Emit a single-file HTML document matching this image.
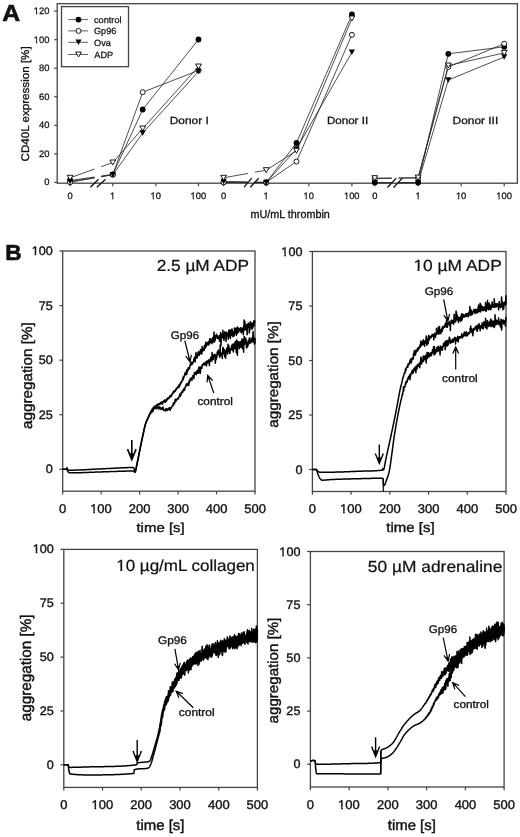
<!DOCTYPE html>
<html><head><meta charset="utf-8"><style>
html,body{margin:0;padding:0;background:#fff;}
body{width:520px;height:837px;overflow:hidden;}
svg{display:block;font-family:"Liberation Sans", sans-serif;filter:grayscale(100%);text-rendering:geometricPrecision;}
</style></head><body>
<svg width="520" height="837" viewBox="0 0 520 837">
<rect width="520" height="837" fill="#fff"/>
<rect x="57.2" y="3.7" width="460.2" height="179.5" fill="none" stroke="#444" stroke-width="1.3"/>
<line x1="54.2" y1="182.4" x2="57.2" y2="182.4" stroke="#444" stroke-width="1.2"/>
<text transform="translate(44.26,185.34) scale(1.0000,1)" font-size="9.400" fill="#111" stroke="#111" stroke-width="0.26">0</text>
<line x1="54.2" y1="153.86" x2="57.2" y2="153.86" stroke="#444" stroke-width="1.2"/>
<text transform="translate(39.04,156.8) scale(1.0000,1)" font-size="9.400" fill="#111" stroke="#111" stroke-width="0.26">20</text>
<line x1="54.2" y1="125.32" x2="57.2" y2="125.32" stroke="#444" stroke-width="1.2"/>
<text transform="translate(39.04,128.26) scale(1.0000,1)" font-size="9.400" fill="#111" stroke="#111" stroke-width="0.26">40</text>
<line x1="54.2" y1="96.78" x2="57.2" y2="96.78" stroke="#444" stroke-width="1.2"/>
<text transform="translate(39.04,99.72) scale(1.0000,1)" font-size="9.400" fill="#111" stroke="#111" stroke-width="0.26">60</text>
<line x1="54.2" y1="68.24" x2="57.2" y2="68.24" stroke="#444" stroke-width="1.2"/>
<text transform="translate(39.04,71.18) scale(1.0000,1)" font-size="9.400" fill="#111" stroke="#111" stroke-width="0.26">80</text>
<line x1="54.2" y1="39.7" x2="57.2" y2="39.7" stroke="#444" stroke-width="1.2"/>
<text transform="translate(33.83,42.64) scale(1.0000,1)" font-size="9.400" fill="#111" stroke="#111" stroke-width="0.26">100</text>
<g transform="translate(33.83,42.64) scale(1.0000,1)" fill="#fff"><rect x="0.06" y="-1.83" width="2.08" height="2.97"/><rect x="3.43" y="-1.83" width="2.00" height="2.97"/></g>
<line x1="54.2" y1="11.16" x2="57.2" y2="11.16" stroke="#444" stroke-width="1.2"/>
<text transform="translate(33.83,14.1) scale(1.0000,1)" font-size="9.400" fill="#111" stroke="#111" stroke-width="0.26">120</text>
<g transform="translate(33.83,14.1) scale(1.0000,1)" fill="#fff"><rect x="0.06" y="-1.83" width="2.08" height="2.97"/><rect x="3.43" y="-1.83" width="2.00" height="2.97"/></g>
<line x1="70.1" y1="183.2" x2="70.1" y2="186.2" stroke="#444" stroke-width="1.2"/>
<text transform="translate(67.52,199.11) scale(1.0000,1)" font-size="9.300" fill="#111" stroke="#111" stroke-width="0.26">0</text>
<line x1="112.8" y1="183.2" x2="112.8" y2="186.2" stroke="#444" stroke-width="1.2"/>
<text transform="translate(110.1,199.11) scale(1.0000,1)" font-size="9.300" fill="#111" stroke="#111" stroke-width="0.26">1</text>
<g transform="translate(110.1,199.11) scale(1.0000,1)" fill="#fff"><rect x="0.05" y="-1.82" width="2.06" height="2.96"/><rect x="3.39" y="-1.82" width="1.98" height="2.96"/></g>
<line x1="155.9" y1="183.2" x2="155.9" y2="186.2" stroke="#444" stroke-width="1.2"/>
<text transform="translate(150.58,199.11) scale(1.0000,1)" font-size="9.300" fill="#111" stroke="#111" stroke-width="0.26">10</text>
<g transform="translate(150.58,199.11) scale(1.0000,1)" fill="#fff"><rect x="0.05" y="-1.82" width="2.06" height="2.96"/><rect x="3.39" y="-1.82" width="1.98" height="2.96"/></g>
<line x1="198.5" y1="183.2" x2="198.5" y2="186.2" stroke="#444" stroke-width="1.2"/>
<text transform="translate(190.59,199.11) scale(1.0000,1)" font-size="9.300" fill="#111" stroke="#111" stroke-width="0.26">100</text>
<g transform="translate(190.59,199.11) scale(1.0000,1)" fill="#fff"><rect x="0.05" y="-1.82" width="2.06" height="2.96"/><rect x="3.39" y="-1.82" width="1.98" height="2.96"/></g>
<line x1="90.4" y1="187.3" x2="98.5" y2="179.2" stroke="#111" stroke-width="1.3"/>
<line x1="96.8" y1="187.3" x2="105.5" y2="179.2" stroke="#111" stroke-width="1.3"/>
<line x1="223.6" y1="183.2" x2="223.6" y2="186.2" stroke="#444" stroke-width="1.2"/>
<text transform="translate(221.02,199.11) scale(1.0000,1)" font-size="9.300" fill="#111" stroke="#111" stroke-width="0.26">0</text>
<line x1="266.2" y1="183.2" x2="266.2" y2="186.2" stroke="#444" stroke-width="1.2"/>
<text transform="translate(263.5,199.11) scale(1.0000,1)" font-size="9.300" fill="#111" stroke="#111" stroke-width="0.26">1</text>
<g transform="translate(263.5,199.11) scale(1.0000,1)" fill="#fff"><rect x="0.05" y="-1.82" width="2.06" height="2.96"/><rect x="3.39" y="-1.82" width="1.98" height="2.96"/></g>
<line x1="308.9" y1="183.2" x2="308.9" y2="186.2" stroke="#444" stroke-width="1.2"/>
<text transform="translate(303.58,199.11) scale(1.0000,1)" font-size="9.300" fill="#111" stroke="#111" stroke-width="0.26">10</text>
<g transform="translate(303.58,199.11) scale(1.0000,1)" fill="#fff"><rect x="0.05" y="-1.82" width="2.06" height="2.96"/><rect x="3.39" y="-1.82" width="1.98" height="2.96"/></g>
<line x1="351.9" y1="183.2" x2="351.9" y2="186.2" stroke="#444" stroke-width="1.2"/>
<text transform="translate(344,199.11) scale(1.0000,1)" font-size="9.300" fill="#111" stroke="#111" stroke-width="0.26">100</text>
<g transform="translate(344,199.11) scale(1.0000,1)" fill="#fff"><rect x="0.05" y="-1.82" width="2.06" height="2.96"/><rect x="3.39" y="-1.82" width="1.98" height="2.96"/></g>
<line x1="244.1" y1="187.2" x2="251.7" y2="178.2" stroke="#111" stroke-width="1.3"/>
<line x1="250.3" y1="187.2" x2="258.6" y2="178.2" stroke="#111" stroke-width="1.3"/>
<line x1="374.75" y1="183.2" x2="374.75" y2="186.2" stroke="#444" stroke-width="1.2"/>
<text transform="translate(372.17,199.11) scale(1.0000,1)" font-size="9.300" fill="#111" stroke="#111" stroke-width="0.26">0</text>
<line x1="418.1" y1="183.2" x2="418.1" y2="186.2" stroke="#444" stroke-width="1.2"/>
<text transform="translate(415.4,199.11) scale(1.0000,1)" font-size="9.300" fill="#111" stroke="#111" stroke-width="0.26">1</text>
<g transform="translate(415.4,199.11) scale(1.0000,1)" fill="#fff"><rect x="0.05" y="-1.82" width="2.06" height="2.96"/><rect x="3.39" y="-1.82" width="1.98" height="2.96"/></g>
<line x1="461.2" y1="183.2" x2="461.2" y2="186.2" stroke="#444" stroke-width="1.2"/>
<text transform="translate(455.88,199.11) scale(1.0000,1)" font-size="9.300" fill="#111" stroke="#111" stroke-width="0.26">10</text>
<g transform="translate(455.88,199.11) scale(1.0000,1)" fill="#fff"><rect x="0.05" y="-1.82" width="2.06" height="2.96"/><rect x="3.39" y="-1.82" width="1.98" height="2.96"/></g>
<line x1="504.2" y1="183.2" x2="504.2" y2="186.2" stroke="#444" stroke-width="1.2"/>
<text transform="translate(496.3,199.11) scale(1.0000,1)" font-size="9.300" fill="#111" stroke="#111" stroke-width="0.26">100</text>
<g transform="translate(496.3,199.11) scale(1.0000,1)" fill="#fff"><rect x="0.05" y="-1.82" width="2.06" height="2.96"/><rect x="3.39" y="-1.82" width="1.98" height="2.96"/></g>
<line x1="387.5" y1="187.5" x2="396.2" y2="178.1" stroke="#111" stroke-width="1.3"/>
<line x1="393.5" y1="187.5" x2="402.5" y2="178.1" stroke="#111" stroke-width="1.3"/>
<line x1="70.1" y1="180.5" x2="94.6" y2="177" stroke="#222" stroke-width="0.8"/>
<line x1="101.2" y1="176.06" x2="112.8" y2="174.4" stroke="#222" stroke-width="0.8"/>
<polyline points="112.8,174.4 142.7,109.5 198.5,39.5" fill="none" stroke="#222" stroke-width="0.8" stroke-linejoin="round"/>
<line x1="70.1" y1="182.3" x2="94.6" y2="177.88" stroke="#222" stroke-width="0.8"/>
<line x1="101.2" y1="176.69" x2="112.8" y2="174.6" stroke="#222" stroke-width="0.8"/>
<polyline points="112.8,174.6 142.7,92.2 198.5,70.5" fill="none" stroke="#222" stroke-width="0.8" stroke-linejoin="round"/>
<line x1="70.1" y1="181.5" x2="94.6" y2="177.66" stroke="#222" stroke-width="0.8"/>
<line x1="101.2" y1="176.62" x2="112.8" y2="174.8" stroke="#222" stroke-width="0.8"/>
<polyline points="112.8,174.8 142.7,133 198.5,71.5" fill="none" stroke="#222" stroke-width="0.8" stroke-linejoin="round"/>
<line x1="70.1" y1="177.8" x2="94.6" y2="169.02" stroke="#222" stroke-width="0.8"/>
<line x1="101.2" y1="166.66" x2="112.8" y2="162.5" stroke="#222" stroke-width="0.8"/>
<polyline points="112.8,162.5 142.7,128.5 198.5,66.5" fill="none" stroke="#222" stroke-width="0.8" stroke-linejoin="round"/>
<circle cx="70.1" cy="180.5" r="2.9" fill="#000"/>
<circle cx="112.8" cy="174.4" r="2.9" fill="#000"/>
<circle cx="142.7" cy="109.5" r="2.9" fill="#000"/>
<circle cx="198.5" cy="39.5" r="2.9" fill="#000"/>
<circle cx="70.1" cy="182.3" r="2.5" fill="#fff" stroke="#000" stroke-width="0.9"/>
<circle cx="112.8" cy="174.6" r="2.5" fill="#fff" stroke="#000" stroke-width="0.9"/>
<circle cx="142.7" cy="92.2" r="2.5" fill="#fff" stroke="#000" stroke-width="0.9"/>
<circle cx="198.5" cy="70.5" r="2.5" fill="#fff" stroke="#000" stroke-width="0.9"/>
<path d="M67 178.8L73.2 178.8L70.1 184.2Z" fill="#000"/>
<path d="M109.7 172.1L115.9 172.1L112.8 177.5Z" fill="#000"/>
<path d="M139.6 130.3L145.8 130.3L142.7 135.7Z" fill="#000"/>
<path d="M195.4 68.8L201.6 68.8L198.5 74.2Z" fill="#000"/>
<path d="M67.2 175.3L73 175.3L70.1 180.3Z" fill="#fff" stroke="#000" stroke-width="0.9" stroke-linejoin="miter"/>
<path d="M109.9 160L115.7 160L112.8 165Z" fill="#fff" stroke="#000" stroke-width="0.9" stroke-linejoin="miter"/>
<path d="M139.8 126L145.6 126L142.7 131Z" fill="#fff" stroke="#000" stroke-width="0.9" stroke-linejoin="miter"/>
<path d="M195.6 64L201.4 64L198.5 69Z" fill="#fff" stroke="#000" stroke-width="0.9" stroke-linejoin="miter"/>
<line x1="223.6" y1="182" x2="248" y2="182.29" stroke="#222" stroke-width="0.8"/>
<line x1="254.8" y1="182.37" x2="266.2" y2="182.5" stroke="#222" stroke-width="0.8"/>
<polyline points="266.2,182.5 296.5,143 351.9,14.5" fill="none" stroke="#222" stroke-width="0.8" stroke-linejoin="round"/>
<line x1="223.6" y1="182.3" x2="248" y2="182.3" stroke="#222" stroke-width="0.8"/>
<line x1="254.8" y1="182.3" x2="266.2" y2="182.3" stroke="#222" stroke-width="0.8"/>
<polyline points="266.2,182.3 296.5,161.5 351.9,34.8" fill="none" stroke="#222" stroke-width="0.8" stroke-linejoin="round"/>
<line x1="223.6" y1="181.5" x2="248" y2="182.07" stroke="#222" stroke-width="0.8"/>
<line x1="254.8" y1="182.23" x2="266.2" y2="182.5" stroke="#222" stroke-width="0.8"/>
<polyline points="266.2,182.5 296.5,149 351.9,52.3" fill="none" stroke="#222" stroke-width="0.8" stroke-linejoin="round"/>
<line x1="223.6" y1="177.8" x2="248" y2="173.45" stroke="#222" stroke-width="0.8"/>
<line x1="254.8" y1="172.23" x2="266.2" y2="170.2" stroke="#222" stroke-width="0.8"/>
<polyline points="266.2,170.2 296.5,150.8 351.9,18.5" fill="none" stroke="#222" stroke-width="0.8" stroke-linejoin="round"/>
<circle cx="223.6" cy="182" r="2.9" fill="#000"/>
<circle cx="266.2" cy="182.5" r="2.9" fill="#000"/>
<circle cx="296.5" cy="143" r="2.9" fill="#000"/>
<circle cx="351.9" cy="14.5" r="2.9" fill="#000"/>
<circle cx="223.6" cy="182.3" r="2.5" fill="#fff" stroke="#000" stroke-width="0.9"/>
<circle cx="266.2" cy="182.3" r="2.5" fill="#fff" stroke="#000" stroke-width="0.9"/>
<circle cx="296.5" cy="161.5" r="2.5" fill="#fff" stroke="#000" stroke-width="0.9"/>
<circle cx="351.9" cy="34.8" r="2.5" fill="#fff" stroke="#000" stroke-width="0.9"/>
<path d="M220.5 178.8L226.7 178.8L223.6 184.2Z" fill="#000"/>
<path d="M263.1 179.8L269.3 179.8L266.2 185.2Z" fill="#000"/>
<path d="M293.4 146.3L299.6 146.3L296.5 151.7Z" fill="#000"/>
<path d="M348.8 49.6L355 49.6L351.9 55Z" fill="#000"/>
<path d="M220.7 175.3L226.5 175.3L223.6 180.3Z" fill="#fff" stroke="#000" stroke-width="0.9" stroke-linejoin="miter"/>
<path d="M263.3 167.7L269.1 167.7L266.2 172.7Z" fill="#fff" stroke="#000" stroke-width="0.9" stroke-linejoin="miter"/>
<path d="M293.6 148.3L299.4 148.3L296.5 153.3Z" fill="#fff" stroke="#000" stroke-width="0.9" stroke-linejoin="miter"/>
<path d="M349 16L354.8 16L351.9 21Z" fill="#fff" stroke="#000" stroke-width="0.9" stroke-linejoin="miter"/>
<line x1="374.75" y1="182.6" x2="391.8" y2="182.6" stroke="#222" stroke-width="0.8"/>
<line x1="398.6" y1="182.6" x2="418.1" y2="182.6" stroke="#222" stroke-width="0.8"/>
<polyline points="418.1,182.6 448.3,53.8 504.2,46.8" fill="none" stroke="#222" stroke-width="0.8" stroke-linejoin="round"/>
<line x1="374.75" y1="178.6" x2="391.8" y2="178.36" stroke="#222" stroke-width="0.8"/>
<line x1="398.6" y1="178.27" x2="418.1" y2="178" stroke="#222" stroke-width="0.8"/>
<polyline points="418.1,178 448.3,67 504.2,43.7" fill="none" stroke="#222" stroke-width="0.8" stroke-linejoin="round"/>
<line x1="374.75" y1="182.8" x2="391.8" y2="182.8" stroke="#222" stroke-width="0.8"/>
<line x1="398.6" y1="182.8" x2="418.1" y2="182.8" stroke="#222" stroke-width="0.8"/>
<polyline points="418.1,182.8 448.3,80 504.2,57" fill="none" stroke="#222" stroke-width="0.8" stroke-linejoin="round"/>
<line x1="374.75" y1="178.2" x2="391.8" y2="177.96" stroke="#222" stroke-width="0.8"/>
<line x1="398.6" y1="177.87" x2="418.1" y2="177.6" stroke="#222" stroke-width="0.8"/>
<polyline points="418.1,177.6 448.3,65.5 504.2,52.9" fill="none" stroke="#222" stroke-width="0.8" stroke-linejoin="round"/>
<circle cx="374.75" cy="182.6" r="2.9" fill="#000"/>
<circle cx="418.1" cy="182.6" r="2.9" fill="#000"/>
<circle cx="448.3" cy="53.8" r="2.9" fill="#000"/>
<circle cx="504.2" cy="46.8" r="2.9" fill="#000"/>
<circle cx="374.75" cy="178.6" r="2.5" fill="#fff" stroke="#000" stroke-width="0.9"/>
<circle cx="418.1" cy="178" r="2.5" fill="#fff" stroke="#000" stroke-width="0.9"/>
<circle cx="448.3" cy="67" r="2.5" fill="#fff" stroke="#000" stroke-width="0.9"/>
<circle cx="504.2" cy="43.7" r="2.5" fill="#fff" stroke="#000" stroke-width="0.9"/>
<path d="M371.65 180.1L377.85 180.1L374.75 185.5Z" fill="#000"/>
<path d="M415 180.1L421.2 180.1L418.1 185.5Z" fill="#000"/>
<path d="M445.2 77.3L451.4 77.3L448.3 82.7Z" fill="#000"/>
<path d="M501.1 54.3L507.3 54.3L504.2 59.7Z" fill="#000"/>
<path d="M371.85 175.7L377.65 175.7L374.75 180.7Z" fill="#fff" stroke="#000" stroke-width="0.9" stroke-linejoin="miter"/>
<path d="M415.2 175.1L421 175.1L418.1 180.1Z" fill="#fff" stroke="#000" stroke-width="0.9" stroke-linejoin="miter"/>
<path d="M445.4 63L451.2 63L448.3 68Z" fill="#fff" stroke="#000" stroke-width="0.9" stroke-linejoin="miter"/>
<path d="M501.3 50.4L507.1 50.4L504.2 55.4Z" fill="#fff" stroke="#000" stroke-width="0.9" stroke-linejoin="miter"/>
<rect x="61.5" y="6.6" width="67.0" height="60.1" fill="#fff" stroke="#444" stroke-width="1.3"/>
<line x1="68.3" y1="19.6" x2="88" y2="19.6" stroke="#333" stroke-width="0.8"/>
<circle cx="78.5" cy="19.6" r="2.9" fill="#000"/>
<text transform="translate(93.99,23.06) scale(1.0200,1)" font-size="9.000" fill="#111" stroke="#111" stroke-width="0.25">control</text>
<line x1="68.3" y1="30.9" x2="88" y2="30.9" stroke="#333" stroke-width="0.8"/>
<circle cx="78.5" cy="30.9" r="2.5" fill="#fff" stroke="#000" stroke-width="0.9"/>
<text transform="translate(93.94,34.25) scale(1.0200,1)" font-size="9.000" fill="#111" stroke="#111" stroke-width="0.25">Gp96</text>
<line x1="68.3" y1="42.3" x2="88" y2="42.3" stroke="#333" stroke-width="0.8"/>
<path d="M75.4 39.6L81.6 39.6L78.5 45Z" fill="#000"/>
<text transform="translate(93.99,45.65) scale(1.0200,1)" font-size="9.000" fill="#111" stroke="#111" stroke-width="0.25">Ova</text>
<line x1="68.3" y1="54.5" x2="88" y2="54.5" stroke="#333" stroke-width="0.8"/>
<path d="M75.6 52L81.4 52L78.5 57Z" fill="#fff" stroke="#000" stroke-width="0.9" stroke-linejoin="miter"/>
<text transform="translate(94.35,57.81) scale(1.0200,1)" font-size="9.000" fill="#111" stroke="#111" stroke-width="0.25">ADP</text>
<text transform="translate(169.8,123.95) scale(1.1396,1)" font-size="10.429" fill="#111" stroke="#111" stroke-width="0.29">Donor I</text>
<text transform="translate(326.92,123.65) scale(1.1133,1)" font-size="10.429" fill="#111" stroke="#111" stroke-width="0.29">Donor II</text>
<text transform="translate(452.6,123.65) scale(1.1423,1)" font-size="10.429" fill="#111" stroke="#111" stroke-width="0.29">Donor III</text>
<text transform="translate(250.45,218.14) scale(0.9458,1)" font-size="11.429" fill="#111" stroke="#111" stroke-width="0.32">mU/mL thrombin</text>
<text transform="translate(29.01,161.43) rotate(-90) scale(1.0451,1)" font-size="11.123" fill="#111" stroke="#111" stroke-width="0.31">CD40L expression [%]</text>
<text transform="translate(2.23,21.35) scale(1.0618,1)" font-size="23.333" font-weight="bold" fill="#111" stroke="#111" stroke-width="0.65">A</text>
<text transform="translate(5.18,260.35) scale(1.0407,1)" font-size="21.739" font-weight="bold" fill="#111" stroke="#111" stroke-width="0.61">B</text>
<rect x="62.7" y="251" width="192.3" height="240.2" fill="none" stroke="#444" stroke-width="1.3"/>
<line x1="59.4" y1="469.3" x2="62.7" y2="469.3" stroke="#444" stroke-width="1.2"/>
<text transform="translate(45.69,473.38) scale(1.0200,1)" font-size="12.400" fill="#111" stroke="#111" stroke-width="0.35">0</text>
<line x1="59.4" y1="414.73" x2="62.7" y2="414.73" stroke="#444" stroke-width="1.2"/>
<text transform="translate(38.67,418.8) scale(1.0200,1)" font-size="12.400" fill="#111" stroke="#111" stroke-width="0.35">25</text>
<line x1="59.4" y1="360.15" x2="62.7" y2="360.15" stroke="#444" stroke-width="1.2"/>
<text transform="translate(38.67,364.23) scale(1.0200,1)" font-size="12.400" fill="#111" stroke="#111" stroke-width="0.35">50</text>
<line x1="59.4" y1="305.57" x2="62.7" y2="305.57" stroke="#444" stroke-width="1.2"/>
<text transform="translate(38.67,309.59) scale(1.0200,1)" font-size="12.400" fill="#111" stroke="#111" stroke-width="0.35">75</text>
<line x1="59.4" y1="251" x2="62.7" y2="251" stroke="#444" stroke-width="1.2"/>
<text transform="translate(31.65,255.08) scale(1.0200,1)" font-size="12.400" fill="#111" stroke="#111" stroke-width="0.35">100</text>
<g transform="translate(31.65,255.08) scale(1.0200,1)" fill="#fff"><rect x="0.23" y="-2.10" width="2.61" height="3.27"/><rect x="4.49" y="-2.10" width="2.51" height="3.27"/></g>
<line x1="62.7" y1="491.2" x2="62.7" y2="494.4" stroke="#444" stroke-width="1.2"/>
<text transform="translate(59.1,512.95) scale(1.0300,1)" font-size="12.600" fill="#111" stroke="#111" stroke-width="0.35">0</text>
<line x1="101.16" y1="491.2" x2="101.16" y2="494.4" stroke="#444" stroke-width="1.2"/>
<text transform="translate(90.13,512.95) scale(1.0300,1)" font-size="12.600" fill="#111" stroke="#111" stroke-width="0.35">100</text>
<g transform="translate(90.13,512.95) scale(1.0300,1)" fill="#fff"><rect x="0.25" y="-2.12" width="2.65" height="3.29"/><rect x="4.56" y="-2.12" width="2.55" height="3.29"/></g>
<line x1="139.62" y1="491.2" x2="139.62" y2="494.4" stroke="#444" stroke-width="1.2"/>
<text transform="translate(128.75,512.95) scale(1.0300,1)" font-size="12.600" fill="#111" stroke="#111" stroke-width="0.35">200</text>
<line x1="178.08" y1="491.2" x2="178.08" y2="494.4" stroke="#444" stroke-width="1.2"/>
<text transform="translate(167.28,512.95) scale(1.0300,1)" font-size="12.600" fill="#111" stroke="#111" stroke-width="0.35">300</text>
<line x1="216.54" y1="491.2" x2="216.54" y2="494.4" stroke="#444" stroke-width="1.2"/>
<text transform="translate(205.83,512.95) scale(1.0300,1)" font-size="12.600" fill="#111" stroke="#111" stroke-width="0.35">400</text>
<line x1="255" y1="491.2" x2="255" y2="494.4" stroke="#444" stroke-width="1.2"/>
<text transform="translate(244.2,512.95) scale(1.0300,1)" font-size="12.600" fill="#111" stroke="#111" stroke-width="0.35">500</text>
<text transform="translate(156.64,270.6) scale(1.0787,1)" font-size="16.000" fill="#111" stroke="#111" stroke-width="0.22">2.5 µM ADP</text>
<text transform="translate(31.77,429.04) rotate(-90) scale(1.0408,1)" font-size="14.652" fill="#111" stroke="#111" stroke-width="0.41">aggregation [%]</text>
<text transform="translate(136.43,531.81) scale(1.1490,1)" font-size="13.048" fill="#111" stroke="#111" stroke-width="0.37">time [s]</text>
<rect x="312.4" y="251.5" width="193.6" height="240" fill="none" stroke="#444" stroke-width="1.3"/>
<line x1="309.1" y1="469.5" x2="312.4" y2="469.5" stroke="#444" stroke-width="1.2"/>
<text transform="translate(295.39,473.58) scale(1.0200,1)" font-size="12.400" fill="#111" stroke="#111" stroke-width="0.35">0</text>
<line x1="309.1" y1="415" x2="312.4" y2="415" stroke="#444" stroke-width="1.2"/>
<text transform="translate(288.37,419.08) scale(1.0200,1)" font-size="12.400" fill="#111" stroke="#111" stroke-width="0.35">25</text>
<line x1="309.1" y1="360.5" x2="312.4" y2="360.5" stroke="#444" stroke-width="1.2"/>
<text transform="translate(288.37,364.58) scale(1.0200,1)" font-size="12.400" fill="#111" stroke="#111" stroke-width="0.35">50</text>
<line x1="309.1" y1="306" x2="312.4" y2="306" stroke="#444" stroke-width="1.2"/>
<text transform="translate(288.37,310.02) scale(1.0200,1)" font-size="12.400" fill="#111" stroke="#111" stroke-width="0.35">75</text>
<line x1="309.1" y1="251.5" x2="312.4" y2="251.5" stroke="#444" stroke-width="1.2"/>
<text transform="translate(281.35,255.58) scale(1.0200,1)" font-size="12.400" fill="#111" stroke="#111" stroke-width="0.35">100</text>
<g transform="translate(281.35,255.58) scale(1.0200,1)" fill="#fff"><rect x="0.23" y="-2.10" width="2.61" height="3.27"/><rect x="4.49" y="-2.10" width="2.51" height="3.27"/></g>
<line x1="312.4" y1="491.5" x2="312.4" y2="494.7" stroke="#444" stroke-width="1.2"/>
<text transform="translate(308.8,513.25) scale(1.0300,1)" font-size="12.600" fill="#111" stroke="#111" stroke-width="0.35">0</text>
<line x1="351.12" y1="491.5" x2="351.12" y2="494.7" stroke="#444" stroke-width="1.2"/>
<text transform="translate(340.09,513.25) scale(1.0300,1)" font-size="12.600" fill="#111" stroke="#111" stroke-width="0.35">100</text>
<g transform="translate(340.09,513.25) scale(1.0300,1)" fill="#fff"><rect x="0.25" y="-2.12" width="2.65" height="3.29"/><rect x="4.56" y="-2.12" width="2.55" height="3.29"/></g>
<line x1="389.84" y1="491.5" x2="389.84" y2="494.7" stroke="#444" stroke-width="1.2"/>
<text transform="translate(378.97,513.25) scale(1.0300,1)" font-size="12.600" fill="#111" stroke="#111" stroke-width="0.35">200</text>
<line x1="428.56" y1="491.5" x2="428.56" y2="494.7" stroke="#444" stroke-width="1.2"/>
<text transform="translate(417.76,513.25) scale(1.0300,1)" font-size="12.600" fill="#111" stroke="#111" stroke-width="0.35">300</text>
<line x1="467.28" y1="491.5" x2="467.28" y2="494.7" stroke="#444" stroke-width="1.2"/>
<text transform="translate(456.57,513.25) scale(1.0300,1)" font-size="12.600" fill="#111" stroke="#111" stroke-width="0.35">400</text>
<line x1="506" y1="491.5" x2="506" y2="494.7" stroke="#444" stroke-width="1.2"/>
<text transform="translate(495.2,513.25) scale(1.0300,1)" font-size="12.600" fill="#111" stroke="#111" stroke-width="0.35">500</text>
<text transform="translate(413.4,271.1) scale(1.0871,1)" font-size="16.000" fill="#111" stroke="#111" stroke-width="0.22">10 µM ADP</text>
<g transform="translate(413.4,271.1) scale(1.0871,1)" fill="#fff"><rect x="0.56" y="-2.31" width="3.25" height="3.42"/><rect x="5.65" y="-2.31" width="3.13" height="3.42"/></g>
<text transform="translate(277.76,427.73) rotate(-90) scale(1.0691,1)" font-size="14.225" fill="#111" stroke="#111" stroke-width="0.40">aggregation [%]</text>
<text transform="translate(386.33,531.98) scale(1.0928,1)" font-size="13.690" fill="#111" stroke="#111" stroke-width="0.38">time [s]</text>
<rect x="63.8" y="549.4" width="193.6" height="238" fill="none" stroke="#444" stroke-width="1.3"/>
<line x1="60.5" y1="764.8" x2="63.8" y2="764.8" stroke="#444" stroke-width="1.2"/>
<text transform="translate(46.79,768.88) scale(1.0200,1)" font-size="12.400" fill="#111" stroke="#111" stroke-width="0.35">0</text>
<line x1="60.5" y1="710.95" x2="63.8" y2="710.95" stroke="#444" stroke-width="1.2"/>
<text transform="translate(39.77,715.03) scale(1.0200,1)" font-size="12.400" fill="#111" stroke="#111" stroke-width="0.35">25</text>
<line x1="60.5" y1="657.1" x2="63.8" y2="657.1" stroke="#444" stroke-width="1.2"/>
<text transform="translate(39.77,661.18) scale(1.0200,1)" font-size="12.400" fill="#111" stroke="#111" stroke-width="0.35">50</text>
<line x1="60.5" y1="603.25" x2="63.8" y2="603.25" stroke="#444" stroke-width="1.2"/>
<text transform="translate(39.77,607.27) scale(1.0200,1)" font-size="12.400" fill="#111" stroke="#111" stroke-width="0.35">75</text>
<line x1="60.5" y1="549.4" x2="63.8" y2="549.4" stroke="#444" stroke-width="1.2"/>
<text transform="translate(32.75,553.48) scale(1.0200,1)" font-size="12.400" fill="#111" stroke="#111" stroke-width="0.35">100</text>
<g transform="translate(32.75,553.48) scale(1.0200,1)" fill="#fff"><rect x="0.23" y="-2.10" width="2.61" height="3.27"/><rect x="4.49" y="-2.10" width="2.51" height="3.27"/></g>
<line x1="63.8" y1="787.4" x2="63.8" y2="790.6" stroke="#444" stroke-width="1.2"/>
<text transform="translate(60.2,809.15) scale(1.0300,1)" font-size="12.600" fill="#111" stroke="#111" stroke-width="0.35">0</text>
<line x1="102.52" y1="787.4" x2="102.52" y2="790.6" stroke="#444" stroke-width="1.2"/>
<text transform="translate(91.49,809.15) scale(1.0300,1)" font-size="12.600" fill="#111" stroke="#111" stroke-width="0.35">100</text>
<g transform="translate(91.49,809.15) scale(1.0300,1)" fill="#fff"><rect x="0.25" y="-2.12" width="2.65" height="3.29"/><rect x="4.56" y="-2.12" width="2.55" height="3.29"/></g>
<line x1="141.24" y1="787.4" x2="141.24" y2="790.6" stroke="#444" stroke-width="1.2"/>
<text transform="translate(130.37,809.15) scale(1.0300,1)" font-size="12.600" fill="#111" stroke="#111" stroke-width="0.35">200</text>
<line x1="179.96" y1="787.4" x2="179.96" y2="790.6" stroke="#444" stroke-width="1.2"/>
<text transform="translate(169.16,809.15) scale(1.0300,1)" font-size="12.600" fill="#111" stroke="#111" stroke-width="0.35">300</text>
<line x1="218.68" y1="787.4" x2="218.68" y2="790.6" stroke="#444" stroke-width="1.2"/>
<text transform="translate(207.97,809.15) scale(1.0300,1)" font-size="12.600" fill="#111" stroke="#111" stroke-width="0.35">400</text>
<line x1="257.4" y1="787.4" x2="257.4" y2="790.6" stroke="#444" stroke-width="1.2"/>
<text transform="translate(246.6,809.15) scale(1.0300,1)" font-size="12.600" fill="#111" stroke="#111" stroke-width="0.35">500</text>
<text transform="translate(116.23,571.3) scale(1.0621,1)" font-size="16.000" fill="#111" stroke="#111" stroke-width="0.22">10 µg/mL collagen</text>
<g transform="translate(116.23,571.3) scale(1.0621,1)" fill="#fff"><rect x="0.56" y="-2.31" width="3.25" height="3.42"/><rect x="5.65" y="-2.31" width="3.13" height="3.42"/></g>
<text transform="translate(31.44,721.13) rotate(-90) scale(0.9953,1)" font-size="15.294" fill="#111" stroke="#111" stroke-width="0.43">aggregation [%]</text>
<text transform="translate(136.33,830.22) scale(1.0361,1)" font-size="14.439" fill="#111" stroke="#111" stroke-width="0.40">time [s]</text>
<rect x="310.4" y="551.5" width="193.7" height="235.5" fill="none" stroke="#444" stroke-width="1.3"/>
<line x1="307.1" y1="764.3" x2="310.4" y2="764.3" stroke="#444" stroke-width="1.2"/>
<text transform="translate(293.39,768.38) scale(1.0200,1)" font-size="12.400" fill="#111" stroke="#111" stroke-width="0.35">0</text>
<line x1="307.1" y1="711.1" x2="310.4" y2="711.1" stroke="#444" stroke-width="1.2"/>
<text transform="translate(286.37,715.18) scale(1.0200,1)" font-size="12.400" fill="#111" stroke="#111" stroke-width="0.35">25</text>
<line x1="307.1" y1="657.9" x2="310.4" y2="657.9" stroke="#444" stroke-width="1.2"/>
<text transform="translate(286.37,661.98) scale(1.0200,1)" font-size="12.400" fill="#111" stroke="#111" stroke-width="0.35">50</text>
<line x1="307.1" y1="604.7" x2="310.4" y2="604.7" stroke="#444" stroke-width="1.2"/>
<text transform="translate(286.37,608.72) scale(1.0200,1)" font-size="12.400" fill="#111" stroke="#111" stroke-width="0.35">75</text>
<line x1="307.1" y1="551.5" x2="310.4" y2="551.5" stroke="#444" stroke-width="1.2"/>
<text transform="translate(279.35,555.58) scale(1.0200,1)" font-size="12.400" fill="#111" stroke="#111" stroke-width="0.35">100</text>
<g transform="translate(279.35,555.58) scale(1.0200,1)" fill="#fff"><rect x="0.23" y="-2.10" width="2.61" height="3.27"/><rect x="4.49" y="-2.10" width="2.51" height="3.27"/></g>
<line x1="310.4" y1="787" x2="310.4" y2="790.2" stroke="#444" stroke-width="1.2"/>
<text transform="translate(306.8,808.75) scale(1.0300,1)" font-size="12.600" fill="#111" stroke="#111" stroke-width="0.35">0</text>
<line x1="349.14" y1="787" x2="349.14" y2="790.2" stroke="#444" stroke-width="1.2"/>
<text transform="translate(338.11,808.75) scale(1.0300,1)" font-size="12.600" fill="#111" stroke="#111" stroke-width="0.35">100</text>
<g transform="translate(338.11,808.75) scale(1.0300,1)" fill="#fff"><rect x="0.25" y="-2.12" width="2.65" height="3.29"/><rect x="4.56" y="-2.12" width="2.55" height="3.29"/></g>
<line x1="387.88" y1="787" x2="387.88" y2="790.2" stroke="#444" stroke-width="1.2"/>
<text transform="translate(377.01,808.75) scale(1.0300,1)" font-size="12.600" fill="#111" stroke="#111" stroke-width="0.35">200</text>
<line x1="426.62" y1="787" x2="426.62" y2="790.2" stroke="#444" stroke-width="1.2"/>
<text transform="translate(415.82,808.75) scale(1.0300,1)" font-size="12.600" fill="#111" stroke="#111" stroke-width="0.35">300</text>
<line x1="465.36" y1="787" x2="465.36" y2="790.2" stroke="#444" stroke-width="1.2"/>
<text transform="translate(454.65,808.75) scale(1.0300,1)" font-size="12.600" fill="#111" stroke="#111" stroke-width="0.35">400</text>
<line x1="504.1" y1="787" x2="504.1" y2="790.2" stroke="#444" stroke-width="1.2"/>
<text transform="translate(493.3,808.75) scale(1.0300,1)" font-size="12.600" fill="#111" stroke="#111" stroke-width="0.35">500</text>
<text transform="translate(367.8,571.9) scale(1.0860,1)" font-size="16.000" fill="#111" stroke="#111" stroke-width="0.22">50 µM adrenaline</text>
<text transform="translate(277.7,723.43) rotate(-90) scale(1.0405,1)" font-size="14.545" fill="#111" stroke="#111" stroke-width="0.41">aggregation [%]</text>
<text transform="translate(387.73,830.37) scale(1.0210,1)" font-size="14.652" fill="#111" stroke="#111" stroke-width="0.41">time [s]</text>
<polyline points="62.7,469.3 62.97,469.3 63.24,469.3 63.51,469.3 63.78,469.3 64.05,469.3 64.32,469.3 64.58,469.3 64.85,469.3 65.12,469.3 65.39,469.3 65.66,469.3 65.93,469.3 66.2,469.3 66.47,469.3 66.74,469.42 67.01,469.85 67.28,470.33 67.55,470.76 67.82,471.24 68.08,471.73 68.35,472.16 68.62,472.46 68.89,472.58 69.16,472.61 69.43,472.65 69.7,472.67 69.97,472.7 70.24,472.72 70.51,472.74 70.78,472.75 71.05,472.77 71.32,472.78 71.58,472.78 71.85,472.79 72.12,472.79 72.39,472.79 72.66,472.79 72.93,472.79 73.2,472.79 73.47,472.79 73.74,472.79 74.01,472.79 74.28,472.78 74.55,472.78 74.81,472.78 75.08,472.78 75.35,472.77 75.62,472.77 75.89,472.77 76.16,472.76 76.43,472.76 76.7,472.75 76.97,472.75 77.24,472.75 77.51,472.74 77.78,472.73 78.05,472.73 78.31,472.72 78.58,472.72 78.85,472.71 79.12,472.71 79.39,472.7 79.66,472.69 79.93,472.68 80.2,472.68 80.47,472.67 80.74,472.66 81.01,472.66 81.28,472.65 81.55,472.64 81.81,472.63 82.08,472.62 82.35,472.61 82.62,472.61 82.89,472.6 83.16,472.59 83.43,472.58 83.7,472.57 83.97,472.56 84.24,472.55 84.51,472.54 84.78,472.53 85.05,472.52 85.31,472.51 85.58,472.5 85.85,472.49 86.12,472.48 86.39,472.47 86.66,472.46 86.93,472.45 87.2,472.44 87.47,472.43 87.74,472.42 88.01,472.41 88.28,472.4 88.55,472.39 88.81,472.38 89.08,472.37 89.35,472.36 89.62,472.35 89.89,472.34 90.16,472.32 90.43,472.31 90.7,472.3 90.97,472.29 91.24,472.28 91.51,472.27 91.78,472.26 92.04,472.25 92.31,472.24 92.58,472.23 92.85,472.22 93.12,472.21 93.39,472.19 93.66,472.18 93.93,472.17 94.2,472.16 94.47,472.15 94.74,472.14 95.01,472.13 95.28,472.12 95.54,472.11 95.81,472.1 96.08,472.09 96.35,472.08 96.62,472.07 96.89,472.06 97.16,472.05 97.43,472.04 97.7,472.03 97.97,472.02 98.24,472.01 98.51,472 98.78,471.99 99.04,471.99 99.31,471.98 99.58,471.97 99.85,471.96 100.12,471.95 100.39,471.94 100.66,471.93 100.93,471.93 101.2,471.92 101.47,471.91 101.74,471.9 102.01,471.89 102.28,471.89 102.54,471.88 102.81,471.87 103.08,471.86 103.35,471.85 103.62,471.84 103.89,471.84 104.16,471.83 104.43,471.82 104.7,471.81 104.97,471.8 105.24,471.79 105.51,471.78 105.78,471.77 106.04,471.76 106.31,471.75 106.58,471.75 106.85,471.74 107.12,471.73 107.39,471.72 107.66,471.71 107.93,471.7 108.2,471.69 108.47,471.68 108.74,471.67 109.01,471.66 109.28,471.65 109.54,471.64 109.81,471.63 110.08,471.62 110.35,471.61 110.62,471.6 110.89,471.59 111.16,471.58 111.43,471.57 111.7,471.56 111.97,471.55 112.24,471.54 112.51,471.53 112.77,471.52 113.04,471.51 113.31,471.5 113.58,471.49 113.85,471.48 114.12,471.47 114.39,471.46 114.66,471.45 114.93,471.44 115.2,471.43 115.47,471.43 115.74,471.42 116.01,471.41 116.27,471.4 116.54,471.39 116.81,471.38 117.08,471.37 117.35,471.36 117.62,471.35 117.89,471.34 118.16,471.33 118.43,471.32 118.7,471.32 118.97,471.31 119.24,471.3 119.51,471.29 119.77,471.28 120.04,471.27 120.31,471.27 120.58,471.26 120.85,471.25 121.12,471.24 121.39,471.23 121.66,471.23 121.93,471.22 122.2,471.21 122.47,471.2 122.74,471.2 123.01,471.19 123.27,471.18 123.54,471.18 123.81,471.17 124.08,471.16 124.35,471.16 124.62,471.15 124.89,471.14 125.16,471.14 125.43,471.13 125.7,471.13 125.97,471.12 126.24,471.12 126.51,471.11 126.77,471.11 127.04,471.1 127.31,471.1 127.58,471.09 127.85,471.09 128.12,471.08 128.39,471.08 128.66,471.08 128.93,471.07 129.2,471.07 129.47,471.07 129.74,471.06 130,471.06 130.27,471.06 130.54,471.06 130.81,471.05 131.08,471.05 131.35,471.05 131.62,471.05 131.89,471.05 132.16,471.05 132.43,471.05 132.7,471.05 132.97,471.05 133.24,471.08 133.5,471.25 133.77,471.51 134.04,471.77 134.31,471.97 134.58,472.17 134.85,472.33 135.12,472.31 135.39,471.85 135.66,471.01 135.93,469.87 136.2,468.56 136.47,467.18 136.74,465.82 137,464.59 137.27,463.33 137.54,461.99 137.81,460.62 138.08,459.26 138.35,457.91 138.62,456.56 138.89,455.2 139.16,453.83 139.43,452.46 139.7,451.09 139.97,449.73 140.24,448.38 140.5,447.04 140.77,445.72 141.04,444.41 141.31,443.11 141.58,441.81 141.85,440.51 142.12,439.24 142.39,437.97 142.66,436.72 142.93,435.5 143.2,434.29 143.47,433.06 143.74,431.82 144,430.57 144.27,429.35 144.54,428.16 144.81,427.03 145.08,425.96 145.35,424.98 145.62,424.11 145.89,423.33 146.16,422.59 146.43,421.91 146.7,421.26 146.97,420.65 147.24,420.05 147.5,419.48 147.77,418.91 148.04,418.35 148.31,417.78 148.58,417.2 148.85,416.62 149.12,416.04 149.39,415.45 149.66,414.88 149.93,414.14 150.2,413.71 150.47,413.55 150.73,412.91 151,411.72 151.27,412.41 151.54,412.62 151.81,411.5 152.08,411.37 152.35,410.35 152.62,409.07 152.89,408.65 153.16,409.06 153.43,408.75 153.7,409.46 153.97,408.29 154.23,408.05 154.5,407.78 154.77,407.87 155.04,407.27 155.31,408.6 155.58,406.98 155.85,406.79 156.12,407.92 156.39,407.67 156.66,407.53 156.93,408.76 157.2,407.09 157.47,407.02 157.73,407.14 158,407.6 158.27,407.62 158.54,407.13 158.81,407.62 159.08,409.13 159.35,407.25 159.62,406.85 159.89,407.84 160.16,407.99 160.43,408.14 160.7,407.62 160.97,409.47 161.23,408.83 161.5,408.92 161.77,408.54 162.04,409.16 162.31,408.02 162.58,409.09 162.85,409.5 163.12,406.98 163.39,409.54 163.66,409.81 163.93,410.55 164.2,410.27 164.47,410.5 164.73,409.73 165,409.6 165.27,410.52 165.54,409.92 165.81,410.92 166.08,408.41 166.35,409.64 166.62,409.8 166.89,409.49 167.16,409.05 167.43,409.41 167.7,410.5 167.97,409.83 168.23,408.66 168.5,408.95 168.77,408.64 169.04,407.81 169.31,408.68 169.58,408.91 169.85,408.29 170.12,410.31 170.39,408.4 170.66,407.85 170.93,408.36 171.2,408.09 171.46,406.92 171.73,407 172,406.82 172.27,405.81 172.54,405.61 172.81,405.52 173.08,405.74 173.35,402.86 173.62,403.88 173.89,403.06 174.16,404.17 174.43,403.49 174.7,402.19 174.96,401.18 175.23,399.36 175.5,401.83 175.77,401.27 176.04,401.25 176.31,399.26 176.58,399.17 176.85,399.36 177.12,398.98 177.39,399.62 177.66,398.48 177.93,398.13 178.2,397.73 178.46,398.78 178.73,397.42 179,397.12 179.27,396.03 179.54,396.46 179.81,394.07 180.08,394.81 180.35,396.23 180.62,394.68 180.89,395.37 181.16,392.7 181.43,393.48 181.7,392.63 181.96,392.13 182.23,391.1 182.5,392.48 182.77,392.11 183.04,390.44 183.31,390.79 183.58,389.73 183.85,388.79 184.12,390.02 184.39,390.46 184.66,389.43 184.93,388.79 185.2,386.73 185.46,386.92 185.73,385.82 186,386.46 186.27,384.29 186.54,384.93 186.81,383.65 187.08,384.38 187.35,384.99 187.62,384.25 187.89,385.19 188.16,383.05 188.43,385.15 188.69,385.47 188.96,382.8 189.23,380.62 189.5,382.46 189.77,380.42 190.04,380.82 190.31,378.42 190.58,379.33 190.85,378.27 191.12,379.03 191.39,378.07 191.66,378.21 191.93,380.41 192.19,377.27 192.46,376.82 192.73,376.2 193,375.51 193.27,376.72 193.54,375.72 193.81,378.7 194.08,376.68 194.35,372.66 194.62,373.05 194.89,373.59 195.16,373.37 195.43,372.61 195.69,374.18 195.96,372.01 196.23,374.75 196.5,371.52 196.77,372.81 197.04,370.79 197.31,373.3 197.58,371.37 197.85,373.05 198.12,372.09 198.39,368.75 198.66,373.02 198.93,367.03 199.19,368.69 199.46,368.25 199.73,367.23 200,367.1 200.27,373.37 200.54,370.96 200.81,367.29 201.08,368.54 201.35,366.52 201.62,366.33 201.89,368.32 202.16,365.62 202.43,364.26 202.69,364.94 202.96,364.74 203.23,364.58 203.5,364.6 203.77,363.8 204.04,362.66 204.31,365.11 204.58,364.27 204.85,364.15 205.12,364.58 205.39,364.45 205.66,363.81 205.93,361.91 206.19,361.41 206.46,365.92 206.73,363.33 207,362.98 207.27,361.02 207.54,361.86 207.81,362.42 208.08,362.66 208.35,360.59 208.62,361.2 208.89,362.29 209.16,359.45 209.42,365.61 209.69,360.34 209.96,361.46 210.23,361.29 210.5,360.43 210.77,357.24 211.04,359.94 211.31,359.57 211.58,357.45 211.85,361.12 212.12,352.59 212.39,358.84 212.66,354.42 212.92,359.39 213.19,359.47 213.46,355.13 213.73,356.47 214,355.16 214.27,355.44 214.54,356.35 214.81,354.23 215.08,357.7 215.35,363.32 215.62,355.2 215.89,356.15 216.16,359.76 216.42,357.16 216.69,357.66 216.96,355.21 217.23,352.05 217.5,354.53 217.77,353.34 218.04,353.45 218.31,349.88 218.58,352.83 218.85,354.53 219.12,354.62 219.39,356.21 219.66,356.33 219.92,357.27 220.19,345.11 220.46,355.31 220.73,352.56 221,354.15 221.27,353.17 221.54,354.09 221.81,353.46 222.08,355.86 222.35,358.59 222.62,351.44 222.89,347.27 223.16,348.12 223.42,353.63 223.69,349.96 223.96,351.85 224.23,349.61 224.5,352.37 224.77,356.78 225.04,352.69 225.31,350.66 225.58,358.17 225.85,355.17 226.12,351.49 226.39,351.52 226.65,348.85 226.92,347.99 227.19,352.1 227.46,350.77 227.73,354.03 228,344.35 228.27,350.63 228.54,347.69 228.81,345.62 229.08,351.46 229.35,350.4 229.62,352.14 229.89,353.54 230.15,348.83 230.42,350.54 230.69,348.67 230.96,349.06 231.23,348.94 231.5,346.11 231.77,348.34 232.04,349.91 232.31,344.16 232.58,348.36 232.85,348.86 233.12,347.28 233.39,351.98 233.65,344.48 233.92,344.92 234.19,343.22 234.46,343.96 234.73,347.5 235,348.67 235.27,341.62 235.54,346.68 235.81,349.05 236.08,345.87 236.35,352.74 236.62,340.04 236.89,342.47 237.15,345.25 237.42,355.34 237.69,341.32 237.96,344.89 238.23,342.72 238.5,343.88 238.77,346.62 239.04,341.93 239.31,348.62 239.58,344.42 239.85,347.4 240.12,341.73 240.39,347.33 240.65,341.52 240.92,343.77 241.19,347.31 241.46,341.28 241.73,344.06 242,338.88 242.27,341.44 242.54,348.85 242.81,346.44 243.08,339.74 243.35,340.45 243.62,352.24 243.89,342.58 244.15,336.38 244.42,342.87 244.69,344.4 244.96,340.49 245.23,341.03 245.5,337.89 245.77,340.84 246.04,339.02 246.31,343.49 246.58,347.93 246.85,345.83 247.12,343.04 247.38,345.7 247.65,346.75 247.92,343.63 248.19,340.79 248.46,344.59 248.73,340.68 249,343.56 249.27,338.12 249.54,342.82 249.81,342.59 250.08,340.75 250.35,341.64 250.62,340.64 250.88,342.95 251.15,338.01 251.42,339.83 251.69,339.51 251.96,341.71 252.23,338.95 252.5,340.63 252.77,339.4 253.04,331.51 253.31,337.78 253.58,342.16 253.85,340.11 254.12,338.04 254.38,344.12 254.65,338.54 254.92,343.48 255,338.12" fill="none" stroke="#000" stroke-width="1.5" stroke-linejoin="round"/>
<polyline points="62.7,469.3 62.97,469.3 63.24,469.3 63.51,469.3 63.78,469.3 64.05,469.3 64.32,469.3 64.58,469.3 64.85,469.3 65.12,469.3 65.39,469.3 65.66,469.3 65.93,469.3 66.2,469.3 66.47,469.3 66.74,468.43 67.01,467.62 67.28,468.56 67.55,469.69 67.82,469.98 68.08,470.02 68.35,470.06 68.62,470.09 68.89,470.12 69.16,470.14 69.43,470.15 69.7,470.16 69.97,470.17 70.24,470.17 70.51,470.17 70.78,470.17 71.05,470.17 71.32,470.17 71.58,470.17 71.85,470.17 72.12,470.17 72.39,470.16 72.66,470.16 72.93,470.16 73.2,470.15 73.47,470.15 73.74,470.14 74.01,470.14 74.28,470.13 74.55,470.13 74.81,470.12 75.08,470.12 75.35,470.11 75.62,470.1 75.89,470.1 76.16,470.09 76.43,470.08 76.7,470.07 76.97,470.07 77.24,470.06 77.51,470.05 77.78,470.04 78.05,470.03 78.31,470.02 78.58,470.01 78.85,470 79.12,469.99 79.39,469.98 79.66,469.97 79.93,469.96 80.2,469.95 80.47,469.94 80.74,469.93 81.01,469.91 81.28,469.9 81.55,469.89 81.81,469.88 82.08,469.86 82.35,469.85 82.62,469.84 82.89,469.83 83.16,469.81 83.43,469.8 83.7,469.79 83.97,469.77 84.24,469.76 84.51,469.75 84.78,469.73 85.05,469.72 85.31,469.7 85.58,469.69 85.85,469.67 86.12,469.66 86.39,469.65 86.66,469.63 86.93,469.62 87.2,469.6 87.47,469.59 87.74,469.57 88.01,469.56 88.28,469.54 88.55,469.53 88.81,469.51 89.08,469.5 89.35,469.48 89.62,469.47 89.89,469.45 90.16,469.44 90.43,469.42 90.7,469.41 90.97,469.39 91.24,469.37 91.51,469.36 91.78,469.34 92.04,469.33 92.31,469.31 92.58,469.3 92.85,469.28 93.12,469.27 93.39,469.25 93.66,469.24 93.93,469.22 94.2,469.21 94.47,469.19 94.74,469.18 95.01,469.16 95.28,469.15 95.54,469.14 95.81,469.12 96.08,469.11 96.35,469.09 96.62,469.08 96.89,469.06 97.16,469.05 97.43,469.04 97.7,469.02 97.97,469.01 98.24,469 98.51,468.98 98.78,468.97 99.04,468.96 99.31,468.95 99.58,468.93 99.85,468.92 100.12,468.91 100.39,468.9 100.66,468.88 100.93,468.87 101.2,468.86 101.47,468.85 101.74,468.84 102.01,468.83 102.28,468.82 102.54,468.8 102.81,468.79 103.08,468.78 103.35,468.77 103.62,468.75 103.89,468.74 104.16,468.73 104.43,468.71 104.7,468.7 104.97,468.69 105.24,468.68 105.51,468.66 105.78,468.65 106.04,468.63 106.31,468.62 106.58,468.61 106.85,468.59 107.12,468.58 107.39,468.56 107.66,468.55 107.93,468.54 108.2,468.52 108.47,468.51 108.74,468.49 109.01,468.48 109.28,468.46 109.54,468.45 109.81,468.43 110.08,468.42 110.35,468.41 110.62,468.39 110.89,468.38 111.16,468.36 111.43,468.35 111.7,468.33 111.97,468.32 112.24,468.3 112.51,468.29 112.77,468.27 113.04,468.26 113.31,468.24 113.58,468.23 113.85,468.21 114.12,468.2 114.39,468.19 114.66,468.17 114.93,468.16 115.2,468.14 115.47,468.13 115.74,468.11 116.01,468.1 116.27,468.09 116.54,468.07 116.81,468.06 117.08,468.04 117.35,468.03 117.62,468.02 117.89,468 118.16,467.99 118.43,467.98 118.7,467.96 118.97,467.95 119.24,467.94 119.51,467.92 119.77,467.91 120.04,467.9 120.31,467.89 120.58,467.87 120.85,467.86 121.12,467.85 121.39,467.84 121.66,467.83 121.93,467.82 122.2,467.8 122.47,467.79 122.74,467.78 123.01,467.77 123.27,467.76 123.54,467.75 123.81,467.74 124.08,467.73 124.35,467.72 124.62,467.71 124.89,467.7 125.16,467.69 125.43,467.69 125.7,467.68 125.97,467.67 126.24,467.66 126.51,467.65 126.77,467.65 127.04,467.64 127.31,467.63 127.58,467.62 127.85,467.62 128.12,467.61 128.39,467.61 128.66,467.6 128.93,467.59 129.2,467.59 129.47,467.59 129.74,467.58 130,467.58 130.27,467.57 130.54,467.57 130.81,467.57 131.08,467.56 131.35,467.56 131.62,467.56 131.89,467.56 132.16,467.56 132.43,467.55 132.7,467.55 132.97,467.55 133.24,467.59 133.5,467.78 133.77,468.11 134.04,468.53 134.31,469.05 134.58,470.16 134.85,471.25 135.12,471.43 135.39,470.96 135.66,470.07 135.93,468.89 136.2,467.54 136.47,466.11 136.74,464.73 137,463.5 137.27,462.28 137.54,461 137.81,459.7 138.08,458.38 138.35,457.07 138.62,455.72 138.89,454.37 139.16,453 139.43,451.62 139.7,450.25 139.97,448.88 140.24,447.52 140.5,446.17 140.77,444.85 141.04,443.54 141.31,442.23 141.58,440.93 141.85,439.64 142.12,438.36 142.39,437.1 142.66,435.85 142.93,434.63 143.2,433.42 143.47,432.19 143.74,430.94 144,429.7 144.27,428.48 144.54,427.29 144.81,426.15 145.08,425.09 145.35,424.11 145.62,423.24 145.89,422.45 146.16,421.72 146.43,421.03 146.7,420.39 146.97,419.77 147.24,419.18 147.5,418.61 147.77,418.04 148.04,417.48 148.31,416.91 148.58,416.33 148.85,415.74 149.12,415.15 149.39,414.57 149.66,413.99 149.93,413.4 150.2,412.65 150.47,412.26 150.73,411.89 151,411.47 151.27,410.83 151.54,410.53 151.81,410.05 152.08,411.97 152.35,408.6 152.62,408.31 152.89,408.94 153.16,411.14 153.43,408.34 153.7,407.63 153.97,407.88 154.23,406.24 154.5,407.91 154.77,406.2 155.04,406.42 155.31,406.89 155.58,406.09 155.85,405.92 156.12,405.83 156.39,405.85 156.66,404.83 156.93,405.6 157.2,405.13 157.47,404.29 157.73,405.5 158,404.65 158.27,404.96 158.54,404.32 158.81,404.61 159.08,403.41 159.35,404.06 159.62,403.6 159.89,404.44 160.16,403.24 160.43,403.18 160.7,402.56 160.97,403.77 161.23,402.03 161.5,403.06 161.77,403.6 162.04,402.38 162.31,401.86 162.58,404.11 162.85,401.98 163.12,402.03 163.39,402.19 163.66,400.87 163.93,401.91 164.2,400.31 164.47,400.57 164.73,400.63 165,399.86 165.27,402.29 165.54,400.5 165.81,400.7 166.08,401.51 166.35,400.56 166.62,399.52 166.89,398.83 167.16,400.04 167.43,398.96 167.7,397.97 167.97,398.07 168.23,398.89 168.5,398.67 168.77,398.08 169.04,398.28 169.31,396.86 169.58,396.99 169.85,396.13 170.12,397.06 170.39,395.79 170.66,396.25 170.93,395.46 171.2,395.04 171.46,396.44 171.73,394.33 172,394.71 172.27,393.82 172.54,393.2 172.81,393.16 173.08,392 173.35,392.97 173.62,392.16 173.89,391.05 174.16,390.74 174.43,392.08 174.7,391.06 174.96,391.18 175.23,391.21 175.5,390.94 175.77,388.94 176.04,390.03 176.31,389.41 176.58,389.2 176.85,387.78 177.12,388.26 177.39,387.66 177.66,387.02 177.93,387.65 178.2,387.63 178.46,385.91 178.73,385.39 179,386.21 179.27,386.9 179.54,384.37 179.81,385.87 180.08,383.88 180.35,384.03 180.62,382.44 180.89,383.51 181.16,382.01 181.43,381.2 181.7,381.97 181.96,380.91 182.23,380.12 182.5,380.18 182.77,379.97 183.04,377.21 183.31,379.65 183.58,377.96 183.85,376.37 184.12,376.83 184.39,375.48 184.66,375.58 184.93,372.98 185.2,375.02 185.46,372.91 185.73,373.17 186,373.7 186.27,372.8 186.54,370.72 186.81,374.58 187.08,369.5 187.35,372.04 187.62,371.37 187.89,370.24 188.16,367.93 188.43,369.08 188.69,367.91 188.96,367.5 189.23,368.81 189.5,368.9 189.77,367.43 190.04,365.04 190.31,365.61 190.58,362.74 190.85,364.05 191.12,364.84 191.39,364.86 191.66,362.14 191.93,364.59 192.19,363.62 192.46,362.84 192.73,362.75 193,362.96 193.27,361.54 193.54,361.59 193.81,359.45 194.08,360.39 194.35,357.34 194.62,361.22 194.89,360.21 195.16,361.72 195.43,358.08 195.69,356.6 195.96,352.59 196.23,358.11 196.5,354.98 196.77,357.51 197.04,355.74 197.31,357.82 197.58,355.55 197.85,352.92 198.12,354.54 198.39,352.31 198.66,351.42 198.93,352.38 199.19,355.47 199.46,354.78 199.73,352.72 200,353.03 200.27,352.31 200.54,349.39 200.81,353.52 201.08,349.98 201.35,350.9 201.62,349.67 201.89,353.88 202.16,346.47 202.43,350.06 202.69,350.02 202.96,348.68 203.23,350.86 203.5,350.67 203.77,348.43 204.04,350.42 204.31,345.92 204.58,346.98 204.85,345.07 205.12,348.24 205.39,347.29 205.66,343.98 205.93,342.22 206.19,346.67 206.46,342.45 206.73,342.92 207,344.48 207.27,343.36 207.54,344.65 207.81,344.99 208.08,343.5 208.35,341.52 208.62,344.68 208.89,345.01 209.16,342.21 209.42,343.38 209.69,338.74 209.96,343.06 210.23,338.93 210.5,342.65 210.77,338.69 211.04,339.99 211.31,339.63 211.58,341.41 211.85,339.92 212.12,343.67 212.39,341.36 212.66,338.75 212.92,337.51 213.19,340.65 213.46,341.74 213.73,339.9 214,331.99 214.27,337.83 214.54,341.95 214.81,339.31 215.08,340.46 215.35,338.87 215.62,335.76 215.89,336.46 216.16,336.91 216.42,334.21 216.69,336.6 216.96,336.02 217.23,338.15 217.5,335.79 217.77,337.76 218.04,337.61 218.31,337.06 218.58,338.58 218.85,338.96 219.12,339.28 219.39,335.46 219.66,341.19 219.92,339.5 220.19,337.65 220.46,334.27 220.73,332.63 221,345.56 221.27,337.31 221.54,336.2 221.81,334.33 222.08,336.9 222.35,335.7 222.62,337.79 222.89,330.31 223.16,334.98 223.42,338.19 223.69,337.83 223.96,340.42 224.23,337.69 224.5,334.8 224.77,331.79 225.04,335.72 225.31,335.65 225.58,334.29 225.85,337.83 226.12,341.41 226.39,332.22 226.65,335.94 226.92,332.62 227.19,335.41 227.46,332.98 227.73,335.38 228,335.06 228.27,339.16 228.54,335.47 228.81,330.15 229.08,334.77 229.35,332.17 229.62,330.05 229.89,336.98 230.15,334.21 230.42,338.53 230.69,333 230.96,330.01 231.23,329.88 231.5,329.87 231.77,335.29 232.04,328.93 232.31,333.54 232.58,334.56 232.85,336.62 233.12,331.84 233.39,332.1 233.65,332.17 233.92,334.67 234.19,335.94 234.46,328.3 234.73,328.02 235,329.33 235.27,329.59 235.54,328.48 235.81,333.6 236.08,332.75 236.35,335.16 236.62,328.12 236.89,329.92 237.15,333.81 237.42,330.35 237.69,327.04 237.96,329.2 238.23,330.92 238.5,332.43 238.77,328.38 239.04,329.08 239.31,330.72 239.58,329.08 239.85,330.01 240.12,329.21 240.39,327.8 240.65,331.66 240.92,328.07 241.19,330.8 241.46,332.82 241.73,327.93 242,328.12 242.27,330.48 242.54,330.26 242.81,331.43 243.08,331.96 243.35,334.63 243.62,326.21 243.89,326.79 244.15,319.9 244.42,329.88 244.69,321.25 244.96,322.44 245.23,330.04 245.5,327.37 245.77,329.05 246.04,325.16 246.31,327.31 246.58,324.54 246.85,327.86 247.12,334.66 247.38,325.51 247.65,325.19 247.92,327.22 248.19,323 248.46,324.87 248.73,323.2 249,326.03 249.27,332.99 249.54,328.49 249.81,330.41 250.08,327.57 250.35,321.63 250.62,325.25 250.88,322.82 251.15,323.17 251.42,327.04 251.69,325.15 251.96,329.29 252.23,323.41 252.5,327.03 252.77,327.93 253.04,324.82 253.31,322.35 253.58,324.14 253.85,320.87 254.12,325.86 254.38,323.86 254.65,321.3 254.92,321.16 255,321.81" fill="none" stroke="#000" stroke-width="1.5" stroke-linejoin="round"/>
<polyline points="312.4,469.5 312.67,469.5 312.94,469.5 313.21,469.5 313.48,469.5 313.76,469.5 314.03,469.5 314.3,469.5 314.57,469.5 314.84,469.5 315.11,469.5 315.38,469.5 315.65,469.5 315.92,469.5 316.19,469.5 316.47,469.64 316.74,470.21 317.01,471.08 317.28,472.08 317.55,473.06 317.82,473.86 318.09,474.52 318.36,475.18 318.63,475.83 318.9,476.46 319.18,477.05 319.45,477.59 319.72,478.07 319.99,478.47 320.26,478.79 320.53,479.09 320.8,479.39 321.07,479.66 321.34,479.88 321.62,480.06 321.89,480.16 322.16,480.18 322.43,480.18 322.7,480.18 322.97,480.17 323.24,480.16 323.51,480.15 323.78,480.14 324.05,480.13 324.33,480.11 324.6,480.09 324.87,480.08 325.14,480.06 325.41,480.04 325.68,480.02 325.95,479.99 326.22,479.97 326.49,479.95 326.77,479.92 327.04,479.9 327.31,479.87 327.58,479.85 327.85,479.82 328.12,479.8 328.39,479.78 328.66,479.75 328.93,479.73 329.2,479.7 329.48,479.68 329.75,479.66 330.02,479.64 330.29,479.62 330.56,479.6 330.83,479.58 331.1,479.56 331.37,479.55 331.64,479.53 331.91,479.52 332.19,479.51 332.46,479.5 332.73,479.49 333,479.47 333.27,479.46 333.54,479.45 333.81,479.44 334.08,479.43 334.35,479.42 334.63,479.4 334.9,479.39 335.17,479.38 335.44,479.37 335.71,479.36 335.98,479.35 336.25,479.34 336.52,479.33 336.79,479.32 337.06,479.31 337.34,479.3 337.61,479.29 337.88,479.28 338.15,479.27 338.42,479.26 338.69,479.25 338.96,479.24 339.23,479.23 339.5,479.22 339.78,479.21 340.05,479.2 340.32,479.19 340.59,479.18 340.86,479.17 341.13,479.16 341.4,479.15 341.67,479.15 341.94,479.14 342.21,479.13 342.49,479.12 342.76,479.11 343.03,479.1 343.3,479.09 343.57,479.09 343.84,479.08 344.11,479.07 344.38,479.06 344.65,479.05 344.92,479.04 345.2,479.04 345.47,479.03 345.74,479.02 346.01,479.01 346.28,479 346.55,479 346.82,478.99 347.09,478.98 347.36,478.97 347.64,478.97 347.91,478.96 348.18,478.95 348.45,478.94 348.72,478.94 348.99,478.93 349.26,478.92 349.53,478.91 349.8,478.91 350.07,478.9 350.35,478.89 350.62,478.89 350.89,478.88 351.16,478.87 351.43,478.86 351.7,478.86 351.97,478.85 352.24,478.84 352.51,478.84 352.78,478.83 353.06,478.82 353.33,478.82 353.6,478.81 353.87,478.8 354.14,478.8 354.41,478.79 354.68,478.78 354.95,478.78 355.22,478.77 355.5,478.76 355.77,478.76 356.04,478.75 356.31,478.74 356.58,478.74 356.85,478.73 357.12,478.72 357.39,478.72 357.66,478.71 357.93,478.71 358.21,478.7 358.48,478.69 358.75,478.69 359.02,478.68 359.29,478.67 359.56,478.67 359.83,478.66 360.1,478.65 360.37,478.65 360.65,478.64 360.92,478.63 361.19,478.63 361.46,478.62 361.73,478.61 362,478.61 362.27,478.6 362.54,478.59 362.81,478.59 363.08,478.58 363.36,478.57 363.63,478.57 363.9,478.56 364.17,478.55 364.44,478.55 364.71,478.54 364.98,478.53 365.25,478.53 365.52,478.52 365.79,478.51 366.07,478.5 366.34,478.5 366.61,478.49 366.88,478.48 367.15,478.48 367.42,478.47 367.69,478.46 367.96,478.46 368.23,478.45 368.51,478.44 368.78,478.44 369.05,478.43 369.32,478.42 369.59,478.42 369.86,478.41 370.13,478.4 370.4,478.4 370.67,478.39 370.94,478.38 371.22,478.38 371.49,478.37 371.76,478.36 372.03,478.36 372.3,478.35 372.57,478.35 372.84,478.34 373.11,478.33 373.38,478.33 373.66,478.32 373.93,478.32 374.2,478.31 374.47,478.31 374.74,478.3 375.01,478.3 375.28,478.29 375.55,478.29 375.82,478.28 376.09,478.28 376.37,478.27 376.64,478.27 376.91,478.27 377.18,478.26 377.45,478.26 377.72,478.26 377.99,478.25 378.26,478.25 378.53,478.25 378.8,478.24 379.08,478.24 379.35,478.24 379.62,478.23 379.89,478.23 380.16,478.23 380.43,478.23 380.7,478.23 380.97,478.23 381.24,478.22 381.52,478.22 381.79,478.22 382.06,478.22 382.33,478.22 382.6,478.22 382.87,478.22 383.14,480.31 383.41,484.03 383.68,485.63 383.95,485.53 384.23,485.33 384.5,485.06 384.77,484.73 385.04,484.23 385.31,483.59 385.58,482.84 385.85,482.03 386.12,481.18 386.39,480.33 386.66,479.53 386.94,478.78 387.21,478.07 387.48,477.36 387.75,476.62 388.02,475.85 388.29,475.01 388.56,474.07 388.83,473.03 389.1,471.83 389.38,470.5 389.65,469.04 389.92,467.46 390.19,465.78 390.46,464.01 390.73,462.16 391,460.25 391.27,458.27 391.54,456.26 391.81,454.2 392.09,452.13 392.36,450.05 392.63,447.97 392.9,445.91 393.17,443.87 393.44,441.87 393.71,439.92 393.98,438.03 394.25,436.21 394.53,434.48 394.8,432.83 395.07,431.21 395.34,429.59 395.61,427.98 395.88,426.38 396.15,424.8 396.42,423.23 396.69,421.67 396.96,420.14 397.24,418.62 397.51,417.13 397.78,415.65 398.05,414.21 398.32,412.78 398.59,411.39 398.86,410.03 399.13,408.7 399.4,407.4 399.67,406.14 399.95,404.88 400.22,403.56 400.49,402.45 400.76,401.35 401.03,399.92 401.3,399.41 401.57,398.05 401.84,396.55 402.11,395.49 402.39,393.97 402.66,394.75 402.93,391.85 403.2,391.37 403.47,386.78 403.74,390.64 404.01,387.23 404.28,386.93 404.55,386.39 404.82,387.07 405.1,386.19 405.37,383.61 405.64,384.79 405.91,381.71 406.18,381.96 406.45,382.79 406.72,380.9 406.99,382.25 407.26,381.54 407.54,379.71 407.81,378.16 408.08,379.35 408.35,378.59 408.62,376.51 408.89,376.17 409.16,377.85 409.43,376.82 409.7,374.67 409.97,379.73 410.25,374.82 410.52,376.56 410.79,374.66 411.06,373.29 411.33,373.74 411.6,372.12 411.87,372.92 412.14,370.29 412.41,373.49 412.68,370.87 412.96,370.25 413.23,372.93 413.5,371.22 413.77,369.84 414.04,368.14 414.31,369.15 414.58,369.22 414.85,370.52 415.12,367.29 415.4,368.07 415.67,367.71 415.94,372.73 416.21,366.11 416.48,368.06 416.75,369.24 417.02,367.12 417.29,368.03 417.56,364.48 417.83,366.1 418.11,366.03 418.38,366.12 418.65,365.23 418.92,364.78 419.19,363.38 419.46,364.83 419.73,367.64 420,362.25 420.27,364.16 420.54,363.95 420.82,357.79 421.09,357.11 421.36,363.39 421.63,363.99 421.9,360.19 422.17,361.27 422.44,360.97 422.71,361.79 422.98,360.09 423.26,355.93 423.53,361.37 423.8,358.92 424.07,358.85 424.34,356.49 424.61,358.87 424.88,359.5 425.15,358.74 425.42,355.32 425.69,359.58 425.97,359.56 426.24,362.91 426.51,355.92 426.78,357.11 427.05,352.61 427.32,358.36 427.59,354.92 427.86,353.43 428.13,356.35 428.41,352.64 428.68,356.26 428.95,357.05 429.22,356.76 429.49,354.86 429.76,356.43 430.03,354.23 430.3,353.06 430.57,355.32 430.84,355.25 431.12,352.63 431.39,355.59 431.66,353.21 431.93,353.27 432.2,353.45 432.47,349.84 432.74,351.49 433.01,352.18 433.28,352.32 433.55,346.44 433.83,352.04 434.1,355.01 434.37,346.48 434.64,354.41 434.91,350.99 435.18,349.99 435.45,353.56 435.72,352.4 435.99,351.3 436.27,348.96 436.54,350.84 436.81,347.49 437.08,351.59 437.35,350.14 437.62,351.55 437.89,349.21 438.16,346.15 438.43,349.99 438.7,347.31 438.98,350.77 439.25,349.35 439.52,348.48 439.79,348.53 440.06,354.91 440.33,346.12 440.6,347.35 440.87,347.13 441.14,347.22 441.42,348.21 441.69,349.86 441.96,346.59 442.23,350.32 442.5,349.08 442.77,347.07 443.04,346.62 443.31,345.34 443.58,343.32 443.85,345.83 444.13,344.35 444.4,345.28 444.67,342.69 444.94,342.14 445.21,349.65 445.48,346.76 445.75,341.06 446.02,343.03 446.29,344.62 446.56,342.79 446.84,345.83 447.11,340.44 447.38,344.33 447.65,345.69 447.92,341.75 448.19,344.64 448.46,340.78 448.73,341.27 449,341.67 449.28,337.26 449.55,338.29 449.82,338.33 450.09,341.88 450.36,343.5 450.63,340.3 450.9,341.23 451.17,341.92 451.44,342.35 451.71,340.56 451.99,341.65 452.26,342.12 452.53,339.64 452.8,339.13 453.07,342.13 453.34,339.59 453.61,339.71 453.88,340.09 454.15,338.91 454.42,337.62 454.7,337.43 454.97,341.09 455.24,337.49 455.51,343.92 455.78,338.38 456.05,339.26 456.32,338.68 456.59,338.3 456.86,340.8 457.14,340.88 457.41,339.13 457.68,336.17 457.95,336.87 458.22,341.83 458.49,338.78 458.76,339.08 459.03,338.47 459.3,336.74 459.57,338.21 459.85,336.76 460.12,337.83 460.39,336.65 460.66,336.62 460.93,337.48 461.2,337.12 461.47,336.64 461.74,333.71 462.01,336.98 462.29,337.93 462.56,337.26 462.83,335.31 463.1,335.11 463.37,336.33 463.64,335.93 463.91,333.69 464.18,333.09 464.45,332.01 464.72,333.03 465,334.11 465.27,335.92 465.54,332.99 465.81,335.3 466.08,335.61 466.35,331.84 466.62,334.1 466.89,333.66 467.16,333.2 467.43,335.85 467.71,335.06 467.98,333.37 468.25,333.21 468.52,332.6 468.79,333.87 469.06,332.65 469.33,333.58 469.6,332.43 469.87,332.99 470.15,328.53 470.42,330.6 470.69,325.91 470.96,329.05 471.23,331.71 471.5,330.43 471.77,329.27 472.04,332.73 472.31,331.31 472.58,330.16 472.86,335.8 473.13,332.4 473.4,328.52 473.67,330.25 473.94,329.73 474.21,329.96 474.48,329.88 474.75,328.99 475.02,327.45 475.3,326.99 475.57,327.74 475.84,327.3 476.11,325.94 476.38,328.42 476.65,330.5 476.92,328.69 477.19,331.35 477.46,330.97 477.73,325.39 478.01,325.14 478.28,328.36 478.55,325.72 478.82,325.06 479.09,323.75 479.36,327.67 479.63,326.51 479.9,325.66 480.17,330.66 480.44,327.32 480.72,327.04 480.99,325.6 481.26,325.48 481.53,327.41 481.8,328.04 482.07,322.7 482.34,326.3 482.61,325.86 482.88,325.58 483.16,329.06 483.43,325.28 483.7,325.16 483.97,321.83 484.24,325.01 484.51,324.53 484.78,323.45 485.05,325.13 485.32,327.74 485.59,318.14 485.87,325.05 486.14,325.79 486.41,323.67 486.68,325.22 486.95,328.88 487.22,325.09 487.49,320.4 487.76,323.53 488.03,325.35 488.3,325.15 488.58,323.05 488.85,326.58 489.12,323.56 489.39,324.1 489.66,321.55 489.93,321.54 490.2,324.49 490.47,325.24 490.74,319.11 491.02,326.64 491.29,320.66 491.56,320.07 491.83,322.19 492.1,322.13 492.37,325.82 492.64,326.29 492.91,321.17 493.18,325.24 493.45,326.65 493.73,323.46 494,320.99 494.27,327.52 494.54,326.57 494.81,323.59 495.08,314.81 495.35,324.85 495.62,322.15 495.89,319.82 496.17,320.64 496.44,324.59 496.71,323.62 496.98,320.66 497.25,321.84 497.52,322.84 497.79,321.33 498.06,323.9 498.33,320.12 498.6,317.91 498.88,321.18 499.15,324.87 499.42,321.58 499.69,324.45 499.96,323.7 500.23,323.03 500.5,327.24 500.77,323.61 501.04,319.32 501.31,321.21 501.59,330.12 501.86,328.06 502.13,320.17 502.4,320.73 502.67,320.45 502.94,321.44 503.21,320.04 503.48,320.24 503.75,323.91 504.03,322.22 504.3,323.25 504.57,322.32 504.84,321.57 505.11,320.38 505.38,326.12 505.65,319.87 505.92,320.65 506,316.65" fill="none" stroke="#000" stroke-width="1.5" stroke-linejoin="round"/>
<polyline points="312.4,469.5 312.67,469.5 312.94,469.5 313.21,469.5 313.48,469.5 313.76,469.5 314.03,469.5 314.3,469.5 314.57,469.5 314.84,469.5 315.11,469.5 315.38,469.5 315.65,469.5 315.92,469.5 316.19,469.5 316.47,469.56 316.74,469.81 317.01,470.18 317.28,470.6 317.55,470.98 317.82,471.24 318.09,471.43 318.36,471.61 318.63,471.79 318.9,471.94 319.18,472.08 319.45,472.2 319.72,472.28 319.99,472.33 320.26,472.33 320.53,472.33 320.8,472.33 321.07,472.33 321.34,472.33 321.62,472.33 321.89,472.33 322.16,472.33 322.43,472.33 322.7,472.33 322.97,472.32 323.24,472.32 323.51,472.32 323.78,472.32 324.05,472.31 324.33,472.31 324.6,472.31 324.87,472.31 325.14,472.3 325.41,472.3 325.68,472.3 325.95,472.29 326.22,472.29 326.49,472.28 326.77,472.28 327.04,472.28 327.31,472.27 327.58,472.27 327.85,472.26 328.12,472.26 328.39,472.26 328.66,472.25 328.93,472.25 329.2,472.24 329.48,472.24 329.75,472.23 330.02,472.23 330.29,472.22 330.56,472.22 330.83,472.21 331.1,472.21 331.37,472.2 331.64,472.2 331.91,472.19 332.19,472.18 332.46,472.18 332.73,472.17 333,472.17 333.27,472.16 333.54,472.16 333.81,472.15 334.08,472.15 334.35,472.14 334.63,472.14 334.9,472.13 335.17,472.13 335.44,472.12 335.71,472.11 335.98,472.11 336.25,472.1 336.52,472.1 336.79,472.09 337.06,472.08 337.34,472.08 337.61,472.07 337.88,472.06 338.15,472.06 338.42,472.05 338.69,472.04 338.96,472.04 339.23,472.03 339.5,472.02 339.78,472.01 340.05,472 340.32,472 340.59,471.99 340.86,471.98 341.13,471.97 341.4,471.96 341.67,471.95 341.94,471.94 342.21,471.93 342.49,471.92 342.76,471.92 343.03,471.91 343.3,471.9 343.57,471.89 343.84,471.88 344.11,471.87 344.38,471.86 344.65,471.85 344.92,471.84 345.2,471.83 345.47,471.81 345.74,471.8 346.01,471.79 346.28,471.78 346.55,471.77 346.82,471.76 347.09,471.75 347.36,471.74 347.64,471.73 347.91,471.72 348.18,471.71 348.45,471.69 348.72,471.68 348.99,471.67 349.26,471.66 349.53,471.65 349.8,471.64 350.07,471.62 350.35,471.61 350.62,471.6 350.89,471.59 351.16,471.58 351.43,471.57 351.7,471.55 351.97,471.54 352.24,471.53 352.51,471.52 352.78,471.51 353.06,471.49 353.33,471.48 353.6,471.47 353.87,471.46 354.14,471.45 354.41,471.44 354.68,471.42 354.95,471.41 355.22,471.4 355.5,471.39 355.77,471.38 356.04,471.36 356.31,471.35 356.58,471.34 356.85,471.33 357.12,471.32 357.39,471.31 357.66,471.29 357.93,471.28 358.21,471.27 358.48,471.26 358.75,471.25 359.02,471.24 359.29,471.23 359.56,471.22 359.83,471.21 360.1,471.2 360.37,471.19 360.65,471.18 360.92,471.17 361.19,471.16 361.46,471.15 361.73,471.15 362,471.14 362.27,471.13 362.54,471.13 362.81,471.12 363.08,471.11 363.36,471.11 363.63,471.1 363.9,471.1 364.17,471.09 364.44,471.08 364.71,471.08 364.98,471.07 365.25,471.07 365.52,471.06 365.79,471.06 366.07,471.05 366.34,471.05 366.61,471.04 366.88,471.04 367.15,471.03 367.42,471.03 367.69,471.02 367.96,471.02 368.23,471.01 368.51,471 368.78,471 369.05,470.99 369.32,470.99 369.59,470.98 369.86,470.97 370.13,470.97 370.4,470.96 370.67,470.95 370.94,470.94 371.22,470.94 371.49,470.93 371.76,470.92 372.03,470.91 372.3,470.9 372.57,470.89 372.84,470.88 373.11,470.87 373.38,470.86 373.66,470.85 373.93,470.83 374.2,470.82 374.47,470.81 374.74,470.79 375.01,470.78 375.28,470.77 375.55,470.75 375.82,470.73 376.09,470.72 376.37,470.7 376.64,470.68 376.91,470.66 377.18,470.64 377.45,470.62 377.72,470.6 377.99,470.58 378.26,470.56 378.53,470.54 378.8,470.51 379.08,470.49 379.35,470.46 379.62,470.44 379.89,470.41 380.16,470.38 380.43,470.35 380.7,470.32 380.97,470.29 381.24,470.26 381.52,470.23 381.79,470.19 382.06,470.16 382.33,469.81 382.6,469.05 382.87,468.63 383.14,469.22 383.41,469.92 383.68,469.53 383.95,468.71 384.23,467.69 384.5,466.46 384.77,465.07 385.04,463.59 385.31,462.07 385.58,460.58 385.85,459.17 386.12,457.87 386.39,456.6 386.66,455.34 386.94,454.09 387.21,452.85 387.48,451.62 387.75,450.4 388.02,449.18 388.29,447.97 388.56,446.76 388.83,445.55 389.1,444.34 389.38,443.12 389.65,441.91 389.92,440.68 390.19,439.45 390.46,438.22 390.73,436.97 391,435.71 391.27,434.44 391.54,433.18 391.81,431.9 392.09,430.63 392.36,429.35 392.63,428.07 392.9,426.78 393.17,425.49 393.44,424.19 393.71,422.88 393.98,421.56 394.25,420.24 394.53,418.91 394.8,417.57 395.07,416.21 395.34,414.84 395.61,413.45 395.88,412.04 396.15,410.63 396.42,409.22 396.69,407.8 396.96,406.39 397.24,404.99 397.51,403.56 397.78,402.1 398.05,400.62 398.32,399.12 398.59,397.62 398.86,396.12 399.13,394.64 399.4,393.17 399.67,391.74 399.95,390.35 400.22,389.09 400.49,387.97 400.76,386.86 401.03,385.38 401.3,384.84 401.57,383.66 401.84,382.34 402.11,381.76 402.39,380.28 402.66,378.46 402.93,377.69 403.2,377.29 403.47,376.29 403.74,375.45 404.01,374.05 404.28,373.6 404.55,372.4 404.82,373.45 405.1,372.09 405.37,369.4 405.64,368.75 405.91,370.54 406.18,368.24 406.45,368.03 406.72,366.98 406.99,367.48 407.26,365.97 407.54,366.1 407.81,367.32 408.08,363.78 408.35,364.37 408.62,364.04 408.89,364.69 409.16,363.49 409.43,364.05 409.7,361.04 409.97,362.69 410.25,361.17 410.52,359.13 410.79,361.51 411.06,359.49 411.33,362.95 411.6,360.4 411.87,358.17 412.14,359.68 412.41,358.2 412.68,357.7 412.96,358.65 413.23,358.87 413.5,353.82 413.77,355.93 414.04,353.94 414.31,350.75 414.58,355.29 414.85,354.32 415.12,354.45 415.4,354.93 415.67,353.89 415.94,349.89 416.21,350.22 416.48,352.07 416.75,351.45 417.02,351.04 417.29,350.83 417.56,348.15 417.83,350.68 418.11,349.01 418.38,347.68 418.65,349.08 418.92,348.48 419.19,347.72 419.46,346.81 419.73,346.12 420,347.17 420.27,344.19 420.54,346.7 420.82,341.07 421.09,345.93 421.36,344.69 421.63,344.76 421.9,345.3 422.17,342.21 422.44,341.71 422.71,344.01 422.98,341.88 423.26,339.71 423.53,344.56 423.8,343.45 424.07,341.07 424.34,344.77 424.61,346.36 424.88,341.36 425.15,342.67 425.42,340.56 425.69,343.02 425.97,341.03 426.24,336.1 426.51,339.79 426.78,345.3 427.05,339.64 427.32,340.79 427.59,341.44 427.86,338.8 428.13,343.73 428.41,337.64 428.68,335.53 428.95,340.27 429.22,340.06 429.49,337.26 429.76,336.19 430.03,337.69 430.3,337.13 430.57,338.09 430.84,337.48 431.12,337.53 431.39,335.78 431.66,336.68 431.93,335.74 432.2,334.38 432.47,335.3 432.74,334.63 433.01,335.13 433.28,336.39 433.55,334.39 433.83,339.95 434.1,334.32 434.37,334.96 434.64,333.27 434.91,336.78 435.18,335.73 435.45,337.3 435.72,335.73 435.99,333.67 436.27,334.23 436.54,328.14 436.81,333.05 437.08,332.46 437.35,332.88 437.62,333.86 437.89,331.52 438.16,331.87 438.43,327.11 438.7,334.18 438.98,329.33 439.25,330.01 439.52,326.5 439.79,332.93 440.06,331.72 440.33,330.59 440.6,332.05 440.87,333.67 441.14,329.88 441.42,329.71 441.69,330.5 441.96,328.45 442.23,331.42 442.5,326.8 442.77,329.3 443.04,328.11 443.31,328.13 443.58,326.34 443.85,327.19 444.13,327.21 444.4,326.31 444.67,326.99 444.94,324.76 445.21,324.41 445.48,323.32 445.75,326.64 446.02,324.57 446.29,326.95 446.56,320.31 446.84,323.23 447.11,323.03 447.38,327.2 447.65,325.19 447.92,323.01 448.19,324.1 448.46,324.32 448.73,322.86 449,324.55 449.28,321.53 449.55,323.47 449.82,325.06 450.09,322.72 450.36,330.55 450.63,323.35 450.9,323.21 451.17,320.21 451.44,322.06 451.71,320.36 451.99,322.21 452.26,323.1 452.53,321.06 452.8,320.43 453.07,321.6 453.34,321.48 453.61,324.27 453.88,322.07 454.15,314.37 454.42,321.56 454.7,322.09 454.97,321.43 455.24,320.06 455.51,321.85 455.78,320.09 456.05,310.97 456.32,320.06 456.59,312.86 456.86,319.58 457.14,319.95 457.41,315.23 457.68,318.04 457.95,319.22 458.22,319.67 458.49,322.57 458.76,318.45 459.03,317.53 459.3,318.82 459.57,319.53 459.85,318.54 460.12,320.37 460.39,316.99 460.66,321.38 460.93,318.88 461.2,315.2 461.47,317.7 461.74,313.82 462.01,320.04 462.29,317.76 462.56,315.11 462.83,314.44 463.1,314.3 463.37,317.21 463.64,316.8 463.91,315.31 464.18,316.5 464.45,317.02 464.72,317.02 465,315.83 465.27,314.44 465.54,315.66 465.81,313.91 466.08,314.95 466.35,313.7 466.62,314.17 466.89,316.6 467.16,313.82 467.43,315.35 467.71,315.29 467.98,315.32 468.25,312.92 468.52,316.67 468.79,314.13 469.06,313.58 469.33,311.39 469.6,313.23 469.87,306.55 470.15,309.67 470.42,315.58 470.69,310.4 470.96,311.46 471.23,310.08 471.5,314.77 471.77,312.97 472.04,312.25 472.31,314.49 472.58,312.01 472.86,311.69 473.13,312.81 473.4,310.44 473.67,311.21 473.94,309.29 474.21,310.92 474.48,310.7 474.75,310.56 475.02,313.67 475.3,311.12 475.57,309.32 475.84,310.47 476.11,309.39 476.38,312.36 476.65,311.87 476.92,313.08 477.19,310.57 477.46,309.51 477.73,312.33 478.01,307.8 478.28,307.82 478.55,305.01 478.82,308.49 479.09,311.57 479.36,309.2 479.63,307.29 479.9,308.22 480.17,303.13 480.44,312 480.72,306.64 480.99,308.68 481.26,305.27 481.53,308.63 481.8,310.44 482.07,307.46 482.34,307.37 482.61,309.66 482.88,306.59 483.16,310.73 483.43,310.27 483.7,308.4 483.97,307.4 484.24,307.41 484.51,309.93 484.78,306.84 485.05,308.75 485.32,310.63 485.59,302.47 485.87,306.94 486.14,311.27 486.41,309.9 486.68,306.34 486.95,308.26 487.22,304.74 487.49,300.49 487.76,307.59 488.03,306.31 488.3,309.85 488.58,306.42 488.85,307.16 489.12,303.06 489.39,309.37 489.66,307.69 489.93,307.02 490.2,306.15 490.47,305.56 490.74,309.66 491.02,308.59 491.29,304.38 491.56,305.77 491.83,307.24 492.1,301.92 492.37,305.52 492.64,306.48 492.91,307.02 493.18,305.12 493.45,306.63 493.73,307.56 494,307.24 494.27,298.64 494.54,305.31 494.81,306.53 495.08,305.61 495.35,304.24 495.62,303.91 495.89,307.14 496.17,305.42 496.44,304.87 496.71,306.36 496.98,303.69 497.25,303.56 497.52,304.72 497.79,305.03 498.06,305.17 498.33,305.85 498.6,309.83 498.88,306.79 499.15,301.58 499.42,304.87 499.69,305.97 499.96,304.05 500.23,304.57 500.5,307.7 500.77,307.23 501.04,306.25 501.31,306.84 501.59,297.09 501.86,304.18 502.13,306.3 502.4,304.64 502.67,301.88 502.94,309.8 503.21,303.53 503.48,306.83 503.75,308.73 504.03,303.04 504.3,304.33 504.57,302.54 504.84,301.88 505.11,304.86 505.38,304.54 505.65,304.84 505.92,295.81 506,304.48" fill="none" stroke="#000" stroke-width="1.5" stroke-linejoin="round"/>
<line x1="383.26" y1="479.09" x2="383.26" y2="491.5" stroke="#000" stroke-width="1.2"/>
<polyline points="63.8,764.8 63.97,764.8 64.15,764.8 64.32,764.8 64.5,764.8 64.67,764.8 64.85,764.8 65.02,764.8 65.19,764.8 65.37,764.8 65.54,764.8 65.72,764.8 65.89,764.8 66.07,764.8 66.24,764.8 66.41,764.8 66.59,764.8 66.76,764.8 66.94,764.8 67.11,764.8 67.28,764.8 67.46,764.8 67.63,764.8 67.81,764.8 67.98,764.8 68.16,764.98 68.33,766.04 68.5,767.61 68.68,769.18 68.85,770.27 69.03,771.05 69.2,771.81 69.38,772.5 69.55,773.09 69.72,773.53 69.9,773.79 70.07,773.86 70.25,773.89 70.42,773.91 70.6,773.94 70.77,773.97 70.94,773.99 71.12,774.02 71.29,774.04 71.47,774.07 71.64,774.09 71.82,774.12 71.99,774.14 72.16,774.16 72.34,774.18 72.51,774.21 72.69,774.23 72.86,774.25 73.03,774.27 73.21,774.29 73.38,774.31 73.56,774.33 73.73,774.35 73.91,774.36 74.08,774.38 74.25,774.4 74.43,774.42 74.6,774.44 74.78,774.45 74.95,774.47 75.13,774.48 75.3,774.5 75.47,774.51 75.65,774.53 75.82,774.54 76,774.56 76.17,774.57 76.35,774.58 76.52,774.6 76.69,774.61 76.87,774.62 77.04,774.63 77.22,774.65 77.39,774.66 77.56,774.67 77.74,774.68 77.91,774.69 78.09,774.7 78.26,774.71 78.44,774.72 78.61,774.73 78.78,774.74 78.96,774.75 79.13,774.76 79.31,774.76 79.48,774.77 79.66,774.78 79.83,774.79 80,774.79 80.18,774.8 80.35,774.81 80.53,774.81 80.7,774.82 80.88,774.83 81.05,774.83 81.22,774.84 81.4,774.84 81.57,774.85 81.75,774.85 81.92,774.86 82.1,774.86 82.27,774.87 82.44,774.87 82.62,774.87 82.79,774.88 82.97,774.88 83.14,774.88 83.31,774.89 83.49,774.89 83.66,774.89 83.84,774.9 84.01,774.9 84.19,774.9 84.36,774.9 84.53,774.91 84.71,774.91 84.88,774.91 85.06,774.91 85.23,774.91 85.41,774.91 85.58,774.92 85.75,774.92 85.93,774.92 86.1,774.92 86.28,774.92 86.45,774.92 86.63,774.92 86.8,774.92 86.97,774.92 87.15,774.92 87.32,774.92 87.5,774.92 87.67,774.92 87.85,774.92 88.02,774.92 88.19,774.92 88.37,774.92 88.54,774.92 88.72,774.92 88.89,774.92 89.06,774.92 89.24,774.92 89.41,774.92 89.59,774.92 89.76,774.92 89.94,774.92 90.11,774.92 90.28,774.92 90.46,774.92 90.63,774.92 90.81,774.92 90.98,774.92 91.16,774.92 91.33,774.92 91.5,774.92 91.68,774.92 91.85,774.92 92.03,774.92 92.2,774.92 92.38,774.92 92.55,774.92 92.72,774.92 92.9,774.92 93.07,774.92 93.25,774.92 93.42,774.92 93.6,774.92 93.77,774.92 93.94,774.92 94.12,774.92 94.29,774.92 94.47,774.92 94.64,774.92 94.81,774.92 94.99,774.92 95.16,774.92 95.34,774.92 95.51,774.92 95.69,774.92 95.86,774.92 96.03,774.91 96.21,774.91 96.38,774.91 96.56,774.91 96.73,774.91 96.91,774.91 97.08,774.91 97.25,774.91 97.43,774.91 97.6,774.91 97.78,774.91 97.95,774.91 98.13,774.91 98.3,774.9 98.47,774.9 98.65,774.9 98.82,774.9 99,774.9 99.17,774.9 99.34,774.9 99.52,774.9 99.69,774.9 99.87,774.9 100.04,774.89 100.22,774.89 100.39,774.89 100.56,774.89 100.74,774.89 100.91,774.89 101.09,774.89 101.26,774.88 101.44,774.88 101.61,774.88 101.78,774.88 101.96,774.88 102.13,774.88 102.31,774.87 102.48,774.87 102.66,774.87 102.83,774.87 103,774.87 103.18,774.87 103.35,774.86 103.53,774.86 103.7,774.86 103.88,774.86 104.05,774.86 104.22,774.85 104.4,774.85 104.57,774.85 104.75,774.85 104.92,774.84 105.09,774.84 105.27,774.84 105.44,774.84 105.62,774.83 105.79,774.83 105.97,774.83 106.14,774.83 106.31,774.82 106.49,774.82 106.66,774.82 106.84,774.81 107.01,774.81 107.19,774.81 107.36,774.81 107.53,774.8 107.71,774.8 107.88,774.8 108.06,774.79 108.23,774.79 108.41,774.79 108.58,774.78 108.75,774.78 108.93,774.78 109.1,774.77 109.28,774.77 109.45,774.76 109.63,774.76 109.8,774.76 109.97,774.75 110.15,774.75 110.32,774.74 110.5,774.74 110.67,774.74 110.84,774.73 111.02,774.73 111.19,774.72 111.37,774.72 111.54,774.71 111.72,774.71 111.89,774.7 112.06,774.7 112.24,774.7 112.41,774.69 112.59,774.69 112.76,774.68 112.94,774.68 113.11,774.67 113.28,774.66 113.46,774.66 113.63,774.65 113.81,774.65 113.98,774.64 114.16,774.64 114.33,774.63 114.5,774.63 114.68,774.62 114.85,774.61 115.03,774.61 115.2,774.6 115.38,774.6 115.55,774.59 115.72,774.58 115.9,774.58 116.07,774.57 116.25,774.56 116.42,774.56 116.59,774.55 116.77,774.54 116.94,774.54 117.12,774.53 117.29,774.52 117.47,774.52 117.64,774.51 117.81,774.5 117.99,774.5 118.16,774.49 118.34,774.48 118.51,774.47 118.69,774.47 118.86,774.46 119.03,774.45 119.21,774.44 119.38,774.43 119.56,774.43 119.73,774.42 119.91,774.41 120.08,774.4 120.25,774.39 120.43,774.38 120.6,774.38 120.78,774.37 120.95,774.36 121.12,774.35 121.3,774.34 121.47,774.33 121.65,774.32 121.82,774.31 122,774.3 122.17,774.29 122.34,774.28 122.52,774.27 122.69,774.27 122.87,774.26 123.04,774.25 123.22,774.24 123.39,774.23 123.56,774.21 123.74,774.2 123.91,774.19 124.09,774.18 124.26,774.17 124.44,774.16 124.61,774.15 124.78,774.14 124.96,774.13 125.13,774.12 125.31,774.11 125.48,774.1 125.66,774.08 125.83,774.07 126,774.06 126.18,774.05 126.35,774.04 126.53,774.03 126.7,774.01 126.87,774 127.05,773.99 127.22,773.98 127.4,773.96 127.57,773.95 127.75,773.94 127.92,773.93 128.09,773.91 128.27,773.9 128.44,773.89 128.62,773.87 128.79,773.86 128.97,773.85 129.14,773.83 129.31,773.82 129.49,773.81 129.66,773.79 129.84,773.78 130.01,773.76 130.19,773.75 130.36,773.73 130.53,773.72 130.71,773.7 130.88,773.69 131.06,773.68 131.23,773.66 131.41,773.64 131.58,773.63 131.75,773.61 131.93,773.6 132.1,773.58 132.28,773.57 132.45,773.55 132.62,773.54 132.8,773.52 132.97,773.5 133.15,773.49 133.32,773.47 133.5,773.45 133.67,773.44 133.84,773.42 134.02,772.39 134.19,770.15 134.37,769.72 134.54,769.66 134.72,769.61 134.89,769.55 135.06,769.5 135.24,769.45 135.41,769.41 135.59,769.36 135.76,769.32 135.94,769.28 136.11,769.24 136.28,769.21 136.46,769.17 136.63,769.14 136.81,769.11 136.98,769.08 137.16,769.06 137.33,769.03 137.5,769.01 137.68,768.99 137.85,768.97 138.03,768.95 138.2,768.93 138.37,768.92 138.55,768.9 138.72,768.89 138.9,768.87 139.07,768.86 139.25,768.85 139.42,768.84 139.59,768.83 139.77,768.82 139.94,768.82 140.12,768.81 140.29,768.8 140.47,768.8 140.64,768.79 140.81,768.78 140.99,768.78 141.16,768.77 141.34,768.77 141.51,768.77 141.69,768.76 141.86,768.76 142.03,768.75 142.21,768.75 142.38,768.74 142.56,768.74 142.73,768.73 142.9,768.73 143.08,768.72 143.25,768.71 143.43,768.71 143.6,768.7 143.78,768.69 143.95,768.68 144.12,768.67 144.3,768.66 144.47,768.65 144.65,768.63 144.82,768.62 145,768.6 145.17,768.59 145.34,768.57 145.52,768.55 145.69,768.53 145.87,768.51 146.04,768.48 146.22,768.46 146.39,768.43 146.56,768.4 146.74,768.37 146.91,768.34 147.09,768.3 147.26,768.27 147.44,768.23 147.61,768.19 147.78,768.14 147.96,768.1 148.13,768.05 148.31,768 148.48,767.9 148.65,767.77 148.83,767.6 149,767.4 149.18,767.17 149.35,766.92 149.53,766.64 149.7,766.35 149.87,766.04 150.05,765.72 150.22,765.39 150.4,765.06 150.57,764.72 150.75,764.36 150.92,763.94 151.09,763.48 151.27,762.99 151.44,762.47 151.62,761.91 151.79,761.33 151.97,760.74 152.14,760.13 152.31,759.5 152.49,758.87 152.66,758.24 152.84,757.62 153.01,756.99 153.19,756.38 153.36,755.78 153.53,755.17 153.71,754.55 153.88,753.92 154.06,753.28 154.23,752.63 154.4,751.98 154.58,751.32 154.75,750.66 154.93,750 155.1,749.34 155.28,748.67 155.45,748.01 155.62,747.35 155.8,746.69 155.97,746.04 156.15,745.39 156.32,744.74 156.5,744.09 156.67,743.44 156.84,742.79 157.02,742.24 157.19,741.41 157.37,740.71 157.54,740.11 157.72,739.5 157.89,738.63 158.06,738.04 158.24,737.37 158.41,736.8 158.59,735.87 158.76,735.1 158.94,734.91 159.11,734.61 159.28,732.79 159.46,732.41 159.63,732.7 159.81,731.09 159.98,731.08 160.15,728.63 160.33,728.3 160.5,726.03 160.68,725.83 160.85,724.64 161.03,724.12 161.2,725.18 161.37,721.17 161.55,722.62 161.72,719.52 161.9,718.7 162.07,718.09 162.25,717.49 162.42,715.57 162.59,717.09 162.77,715.95 162.94,714.89 163.12,712.08 163.29,712.33 163.47,711.33 163.64,711.18 163.81,708.11 163.99,710.61 164.16,706.4 164.34,708.04 164.51,706.91 164.68,709.32 164.86,704.92 165.03,705.3 165.21,705.55 165.38,704.89 165.56,704.33 165.73,702.86 165.9,703.87 166.08,702.76 166.25,704.67 166.43,701 166.6,700.1 166.78,702.02 166.95,702.91 167.12,702.32 167.3,698.8 167.47,699.06 167.65,701.42 167.82,701.33 168,698.39 168.17,701.03 168.34,696.48 168.52,699.37 168.69,695.96 168.87,694.82 169.04,697.08 169.22,695.63 169.39,696.84 169.56,692.89 169.74,695.4 169.91,695.46 170.09,690.7 170.26,693.2 170.43,691.6 170.61,695.12 170.78,690.09 170.96,693.19 171.13,691 171.31,690.44 171.48,687.94 171.65,690.86 171.83,690.53 172,688.94 172.18,691.3 172.35,691.9 172.53,689.64 172.7,685.17 172.87,686.01 173.05,691.37 173.22,685.12 173.4,688.08 173.57,687.1 173.75,686.43 173.92,688.26 174.09,684.53 174.27,683.81 174.44,680.39 174.62,685.26 174.79,679.93 174.97,682.18 175.14,680.77 175.31,686.68 175.49,685.75 175.66,681.85 175.84,677.53 176.01,685.19 176.18,678.47 176.36,684.61 176.53,680.88 176.71,681.11 176.88,679.17 177.06,682.93 177.23,678.04 177.4,679.59 177.58,674.69 177.75,677.5 177.93,674.29 178.1,678.68 178.28,680.57 178.45,676.35 178.62,675.84 178.8,669.57 178.97,680.29 179.15,677.81 179.32,671.97 179.5,677.84 179.67,674.82 179.84,675.27 180.02,673.15 180.19,672.52 180.37,676.42 180.54,672.68 180.72,670.19 180.89,668.32 181.06,676.99 181.24,672.87 181.41,676.07 181.59,670.21 181.76,668.02 181.93,674.16 182.11,667.34 182.28,668.52 182.46,672.17 182.63,669.85 182.81,669.38 182.98,667.93 183.15,670.64 183.33,670.42 183.5,674.05 183.68,668.44 183.85,667.71 184.03,667.44 184.2,662.77 184.37,669.81 184.55,671.94 184.72,675.11 184.9,668.44 185.07,667.6 185.25,666.46 185.42,665.93 185.59,669.59 185.77,665.49 185.94,668.54 186.12,669.96 186.29,663.66 186.46,666.93 186.64,661.62 186.81,661.62 186.99,667.18 187.16,665.9 187.34,665.1 187.51,668.01 187.68,660.34 187.86,666.67 188.03,664.86 188.21,664.29 188.38,672.88 188.56,665.04 188.73,665.6 188.9,663.4 189.08,665.72 189.25,668.34 189.43,669.95 189.6,668.82 189.78,662.56 189.95,661.62 190.12,664.97 190.3,660.09 190.47,667.47 190.65,663.13 190.82,669.84 191,669.36 191.17,659.09 191.34,661.15 191.52,666.76 191.69,660.25 191.87,666.33 192.04,663.66 192.21,662.2 192.39,660.96 192.56,657.67 192.74,664.54 192.91,656.82 193.09,662.85 193.26,659.61 193.43,657.37 193.61,660.71 193.78,662.61 193.96,655.79 194.13,660.43 194.31,662.69 194.48,659.49 194.65,661.88 194.83,658.05 195,663.91 195.18,656.84 195.35,663.98 195.53,656.81 195.7,655.51 195.87,661.85 196.05,659.98 196.22,659.58 196.4,663.69 196.57,660.66 196.75,659.86 196.92,662.6 197.09,662.62 197.27,657.44 197.44,658.15 197.62,659.73 197.79,655.24 197.96,655.38 198.14,660.67 198.31,658.3 198.49,660.14 198.66,658.8 198.84,652.74 199.01,664.19 199.18,653.12 199.36,655.56 199.53,662.22 199.71,659.86 199.88,656.41 200.06,660.09 200.23,656.96 200.4,656.46 200.58,656.37 200.75,656.9 200.93,658.6 201.1,653.41 201.28,658.59 201.45,653.99 201.62,654.03 201.8,655.98 201.97,653.02 202.15,646.36 202.32,649.23 202.5,654.44 202.67,653.3 202.84,650.66 203.02,651.09 203.19,651.15 203.37,653.07 203.54,659.95 203.71,656.61 203.89,659.11 204.06,654.77 204.24,651.51 204.41,657.32 204.59,649.48 204.76,654.29 204.93,656.27 205.11,648.5 205.28,657.54 205.46,650.97 205.63,657.02 205.81,656.85 205.98,648.95 206.15,657.19 206.33,651.83 206.5,658.05 206.68,658.5 206.85,649.73 207.03,652.67 207.2,650.49 207.37,652.11 207.55,652.39 207.72,657.61 207.9,659.77 208.07,650.14 208.24,657.02 208.42,650.02 208.59,657.5 208.77,655.87 208.94,650.71 209.12,646.73 209.29,650.87 209.46,644.89 209.64,647.48 209.81,652.9 209.99,651.34 210.16,650.31 210.34,654.13 210.51,648.91 210.68,653.51 210.86,650.77 211.03,653.21 211.21,655.84 211.38,653.1 211.56,657.33 211.73,651.15 211.9,654.06 212.08,653.7 212.25,655.7 212.43,647.22 212.6,654.19 212.78,646.75 212.95,648.05 213.12,652.29 213.3,648.64 213.47,651.08 213.65,644.35 213.82,646.58 213.99,652 214.17,646.89 214.34,650.22 214.52,652.06 214.69,652.7 214.87,649.62 215.04,653.22 215.21,648.71 215.39,651.6 215.56,647.3 215.74,645.88 215.91,655.16 216.09,644.91 216.26,655.4 216.43,646.01 216.61,646.15 216.78,648.79 216.96,653.85 217.13,650.44 217.31,645.7 217.48,640.64 217.65,647.42 217.83,651.98 218,647.78 218.18,652.7 218.35,657.37 218.53,647.02 218.7,651.61 218.87,651.62 219.05,650.59 219.22,649.46 219.4,649.97 219.57,645.19 219.74,654.52 219.92,643.49 220.09,652.26 220.27,647.97 220.44,642.93 220.62,646.59 220.79,640.24 220.96,643.57 221.14,651.38 221.31,646.65 221.49,641.46 221.66,647.37 221.84,642.31 222.01,643.32 222.18,645.24 222.36,646.99 222.53,655.56 222.71,642.14 222.88,652.37 223.06,646.91 223.23,647.37 223.4,650.07 223.58,648.38 223.75,643.14 223.93,642.66 224.1,646.25 224.28,638.63 224.45,651.86 224.62,650.88 224.8,647.49 224.97,647.47 225.15,650.74 225.32,647.88 225.49,648.88 225.67,642.07 225.84,652.12 226.02,647.11 226.19,646.04 226.37,643.96 226.54,643.27 226.71,644.78 226.89,644.52 227.06,640.37 227.24,645.07 227.41,644.44 227.59,645.69 227.76,641.07 227.93,645.06 228.11,641.78 228.28,646.17 228.46,646.09 228.63,646.39 228.81,644.86 228.98,647.56 229.15,648.79 229.33,644.08 229.5,637.26 229.68,647.84 229.85,645.98 230.02,635.89 230.2,644.57 230.37,645.95 230.55,644.93 230.72,644.94 230.9,644.29 231.07,644.06 231.24,639.6 231.42,638.81 231.59,646.19 231.77,640.49 231.94,645.42 232.12,640.93 232.29,641.16 232.46,642.99 232.64,648.82 232.81,646.16 232.99,640.85 233.16,636.57 233.34,638.2 233.51,643.38 233.68,642.4 233.86,642.99 234.03,646.84 234.21,646.29 234.38,646.12 234.56,634.77 234.73,638.23 234.9,641.85 235.08,636.98 235.25,646.79 235.43,644.41 235.6,644.15 235.77,646.78 235.95,641.59 236.12,647.49 236.3,645.09 236.47,640.4 236.65,637.25 236.82,639.44 236.99,641.12 237.17,644.29 237.34,642.98 237.52,638.76 237.69,642.57 237.87,640.3 238.04,639.65 238.21,644.64 238.39,643.85 238.56,641.13 238.74,643.78 238.91,642.39 239.09,635.86 239.26,635.15 239.43,640.45 239.61,644.65 239.78,640.5 239.96,635.8 240.13,638.91 240.31,642.61 240.48,642.82 240.65,638.77 240.83,639.95 241,637.56 241.18,639.72 241.35,634.98 241.52,635.39 241.7,637.45 241.87,637.15 242.05,634.96 242.22,639.7 242.4,637 242.57,639.08 242.74,636.67 242.92,638.8 243.09,637.66 243.27,637.71 243.44,632.31 243.62,642.34 243.79,634.23 243.96,636.93 244.14,639.69 244.31,632.12 244.49,641.06 244.66,638.37 244.84,637.39 245.01,638.07 245.18,638.52 245.36,635.24 245.53,636 245.71,640.86 245.88,638.01 246.06,639.06 246.23,638.16 246.4,638.65 246.58,642.53 246.75,637.75 246.93,641.95 247.1,642.12 247.27,633.63 247.45,636.54 247.62,632.54 247.8,634.79 247.97,635.82 248.15,631.18 248.32,641.24 248.49,639.55 248.67,641.21 248.84,640.44 249.02,635.28 249.19,632.85 249.37,640.66 249.54,639.92 249.71,631.63 249.89,638.04 250.06,636.53 250.24,641.2 250.41,639.08 250.59,634.44 250.76,636.88 250.93,635.88 251.11,631.65 251.28,638.57 251.46,637.09 251.63,633.42 251.8,640.1 251.98,640.88 252.15,640.78 252.33,633.37 252.5,631.84 252.68,639.77 252.85,638.08 253.02,632.51 253.2,632.49 253.37,636.4 253.55,637.82 253.72,637.83 253.9,641.5 254.07,632 254.24,633.45 254.42,629.4 254.59,630.84 254.77,633.28 254.94,633.29 255.12,633.82 255.29,642.63 255.46,633.08 255.64,629.1 255.81,635.83 255.99,634.95 256.16,638.37 256.34,632.36 256.51,639.72 256.68,642.31 256.86,635.4 257.03,628.18 257.21,635.75 257.38,635.52 257.4,637.52" fill="none" stroke="#000" stroke-width="1.5" stroke-linejoin="round"/>
<polyline points="63.8,764.8 63.97,764.8 64.15,764.8 64.32,764.8 64.5,764.8 64.67,764.8 64.85,764.8 65.02,764.8 65.19,764.8 65.37,764.8 65.54,764.8 65.72,764.8 65.89,764.8 66.07,764.8 66.24,764.8 66.41,764.8 66.59,764.8 66.76,764.8 66.94,764.8 67.11,764.8 67.28,764.8 67.46,764.8 67.63,764.8 67.81,764.8 67.98,764.8 68.16,764.86 68.33,765.21 68.5,765.73 68.68,766.23 68.85,766.55 69.03,766.74 69.2,766.93 69.38,767.09 69.55,767.22 69.72,767.32 69.9,767.38 70.07,767.38 70.25,767.38 70.42,767.38 70.6,767.38 70.77,767.38 70.94,767.38 71.12,767.38 71.29,767.38 71.47,767.38 71.64,767.38 71.82,767.38 71.99,767.37 72.16,767.37 72.34,767.37 72.51,767.37 72.69,767.37 72.86,767.36 73.03,767.36 73.21,767.36 73.38,767.36 73.56,767.35 73.73,767.35 73.91,767.35 74.08,767.35 74.25,767.34 74.43,767.34 74.6,767.34 74.78,767.33 74.95,767.33 75.13,767.32 75.3,767.32 75.47,767.32 75.65,767.31 75.82,767.31 76,767.3 76.17,767.3 76.35,767.3 76.52,767.29 76.69,767.29 76.87,767.28 77.04,767.28 77.22,767.27 77.39,767.27 77.56,767.26 77.74,767.26 77.91,767.25 78.09,767.25 78.26,767.24 78.44,767.24 78.61,767.23 78.78,767.23 78.96,767.22 79.13,767.22 79.31,767.21 79.48,767.2 79.66,767.2 79.83,767.19 80,767.19 80.18,767.18 80.35,767.18 80.53,767.17 80.7,767.16 80.88,767.16 81.05,767.15 81.22,767.15 81.4,767.14 81.57,767.14 81.75,767.13 81.92,767.12 82.1,767.12 82.27,767.11 82.44,767.11 82.62,767.1 82.79,767.09 82.97,767.09 83.14,767.08 83.31,767.08 83.49,767.07 83.66,767.06 83.84,767.06 84.01,767.05 84.19,767.05 84.36,767.04 84.53,767.03 84.71,767.03 84.88,767.02 85.06,767.02 85.23,767.01 85.41,767.01 85.58,767 85.75,766.99 85.93,766.99 86.1,766.98 86.28,766.98 86.45,766.97 86.63,766.97 86.8,766.96 86.97,766.96 87.15,766.95 87.32,766.95 87.5,766.94 87.67,766.93 87.85,766.93 88.02,766.92 88.19,766.92 88.37,766.92 88.54,766.91 88.72,766.91 88.89,766.9 89.06,766.9 89.24,766.89 89.41,766.89 89.59,766.88 89.76,766.88 89.94,766.87 90.11,766.87 90.28,766.87 90.46,766.86 90.63,766.86 90.81,766.85 90.98,766.85 91.16,766.85 91.33,766.84 91.5,766.84 91.68,766.83 91.85,766.83 92.03,766.83 92.2,766.82 92.38,766.82 92.55,766.82 92.72,766.81 92.9,766.81 93.07,766.81 93.25,766.8 93.42,766.8 93.6,766.79 93.77,766.79 93.94,766.79 94.12,766.79 94.29,766.78 94.47,766.78 94.64,766.78 94.81,766.77 94.99,766.77 95.16,766.77 95.34,766.76 95.51,766.76 95.69,766.76 95.86,766.75 96.03,766.75 96.21,766.75 96.38,766.75 96.56,766.74 96.73,766.74 96.91,766.74 97.08,766.73 97.25,766.73 97.43,766.73 97.6,766.73 97.78,766.72 97.95,766.72 98.13,766.72 98.3,766.72 98.47,766.71 98.65,766.71 98.82,766.71 99,766.71 99.17,766.7 99.34,766.7 99.52,766.7 99.69,766.69 99.87,766.69 100.04,766.69 100.22,766.69 100.39,766.68 100.56,766.68 100.74,766.68 100.91,766.68 101.09,766.67 101.26,766.67 101.44,766.67 101.61,766.67 101.78,766.66 101.96,766.66 102.13,766.66 102.31,766.66 102.48,766.65 102.66,766.65 102.83,766.65 103,766.64 103.18,766.64 103.35,766.64 103.53,766.64 103.7,766.63 103.88,766.63 104.05,766.63 104.22,766.63 104.4,766.62 104.57,766.62 104.75,766.62 104.92,766.61 105.09,766.61 105.27,766.61 105.44,766.61 105.62,766.6 105.79,766.6 105.97,766.6 106.14,766.59 106.31,766.59 106.49,766.59 106.66,766.58 106.84,766.58 107.01,766.58 107.19,766.57 107.36,766.57 107.53,766.57 107.71,766.56 107.88,766.56 108.06,766.56 108.23,766.55 108.41,766.55 108.58,766.55 108.75,766.54 108.93,766.54 109.1,766.54 109.28,766.53 109.45,766.53 109.63,766.53 109.8,766.52 109.97,766.52 110.15,766.51 110.32,766.51 110.5,766.51 110.67,766.5 110.84,766.5 111.02,766.49 111.19,766.49 111.37,766.48 111.54,766.48 111.72,766.48 111.89,766.47 112.06,766.47 112.24,766.46 112.41,766.46 112.59,766.45 112.76,766.45 112.94,766.44 113.11,766.44 113.28,766.43 113.46,766.43 113.63,766.42 113.81,766.42 113.98,766.41 114.16,766.41 114.33,766.4 114.5,766.4 114.68,766.39 114.85,766.39 115.03,766.38 115.2,766.37 115.38,766.37 115.55,766.36 115.72,766.36 115.9,766.35 116.07,766.34 116.25,766.34 116.42,766.33 116.59,766.32 116.77,766.32 116.94,766.31 117.12,766.3 117.29,766.3 117.47,766.29 117.64,766.28 117.81,766.28 117.99,766.27 118.16,766.26 118.34,766.26 118.51,766.25 118.69,766.24 118.86,766.23 119.03,766.23 119.21,766.22 119.38,766.21 119.56,766.2 119.73,766.19 119.91,766.19 120.08,766.18 120.25,766.17 120.43,766.16 120.6,766.15 120.78,766.14 120.95,766.13 121.12,766.13 121.3,766.12 121.47,766.11 121.65,766.1 121.82,766.09 122,766.08 122.17,766.07 122.34,766.06 122.52,766.05 122.69,766.04 122.87,766.03 123.04,766.02 123.22,766.01 123.39,766 123.56,765.99 123.74,765.98 123.91,765.97 124.09,765.96 124.26,765.95 124.44,765.94 124.61,765.92 124.78,765.91 124.96,765.9 125.13,765.89 125.31,765.88 125.48,765.87 125.66,765.85 125.83,765.84 126,765.83 126.18,765.82 126.35,765.8 126.53,765.79 126.7,765.78 126.87,765.77 127.05,765.75 127.22,765.74 127.4,765.73 127.57,765.71 127.75,765.7 127.92,765.69 128.09,765.67 128.27,765.66 128.44,765.64 128.62,765.63 128.79,765.61 128.97,765.6 129.14,765.59 129.31,765.57 129.49,765.56 129.66,765.54 129.84,765.52 130.01,765.51 130.19,765.49 130.36,765.48 130.53,765.46 130.71,765.45 130.88,765.43 131.06,765.41 131.23,765.4 131.41,765.38 131.58,765.36 131.75,765.34 131.93,765.33 132.1,765.31 132.28,765.29 132.45,765.27 132.62,765.26 132.8,765.24 132.97,765.22 133.15,765.2 133.32,765.18 133.5,765.16 133.67,765.15 133.84,765.13 134.02,765.11 134.19,765.09 134.37,765.07 134.54,765.05 134.72,765.03 134.89,765.01 135.06,764.99 135.24,764.97 135.41,764.95 135.59,764.92 135.76,764.9 135.94,764.88 136.11,764.86 136.28,764.84 136.46,764.82 136.63,764.75 136.81,763.83 136.98,763.08 137.16,763.01 137.33,762.95 137.5,762.9 137.68,762.85 137.85,762.81 138.03,762.77 138.2,762.74 138.37,762.71 138.55,762.68 138.72,762.66 138.9,762.64 139.07,762.62 139.25,762.61 139.42,762.59 139.59,762.58 139.77,762.57 139.94,762.55 140.12,762.54 140.29,762.53 140.47,762.52 140.64,762.5 140.81,762.48 140.99,762.46 141.16,762.44 141.34,762.42 141.51,762.39 141.69,762.37 141.86,762.35 142.03,762.33 142.21,762.31 142.38,762.29 142.56,762.28 142.73,762.26 142.9,762.24 143.08,762.23 143.25,762.21 143.43,762.2 143.6,762.18 143.78,762.17 143.95,762.16 144.12,762.14 144.3,762.13 144.47,762.12 144.65,762.1 144.82,762.09 145,762.07 145.17,762.06 145.34,762.04 145.52,762.03 145.69,762.01 145.87,761.99 146.04,761.97 146.22,761.96 146.39,761.94 146.56,761.91 146.74,761.89 146.91,761.87 147.09,761.84 147.26,761.82 147.44,761.79 147.61,761.76 147.78,761.73 147.96,761.69 148.13,761.66 148.31,761.62 148.48,761.58 148.65,761.54 148.83,761.5 149,761.46 149.18,761.41 149.35,761.36 149.53,761.28 149.7,761.12 149.87,760.9 150.05,760.62 150.22,760.28 150.4,759.89 150.57,759.47 150.75,759.01 150.92,758.53 151.09,758.02 151.27,757.5 151.44,756.98 151.62,756.45 151.79,755.94 151.97,755.43 152.14,754.95 152.31,754.44 152.49,753.91 152.66,753.35 152.84,752.77 153.01,752.18 153.19,751.57 153.36,750.96 153.53,750.34 153.71,749.73 153.88,749.12 154.06,748.51 154.23,747.91 154.4,747.32 154.58,746.73 154.75,746.14 154.93,745.55 155.1,744.96 155.28,744.37 155.45,743.78 155.62,743.19 155.8,742.59 155.97,741.99 156.15,741.39 156.32,740.78 156.5,740.17 156.67,739.55 156.84,738.92 157.02,738.21 157.19,737.69 157.37,737.2 157.54,736.46 157.72,735.54 157.89,734.92 158.06,734.4 158.24,733.43 158.41,733.05 158.59,731.9 158.76,731.21 158.94,730.1 159.11,730.26 159.28,728.3 159.46,728.5 159.63,727.38 159.81,726.87 159.98,724.31 160.15,723.6 160.33,723.21 160.5,721.48 160.68,721.21 160.85,719.37 161.03,718.87 161.2,717.04 161.37,716.09 161.55,715.87 161.72,713.32 161.9,714.09 162.07,714.99 162.25,711.08 162.42,711.98 162.59,710.51 162.77,710.1 162.94,709.11 163.12,708.26 163.29,707.92 163.47,708.58 163.64,704.88 163.81,707.77 163.99,705.55 164.16,706.33 164.34,703.42 164.51,703.84 164.68,701.46 164.86,705.52 165.03,703.38 165.21,700.52 165.38,698.99 165.56,701.74 165.73,702.19 165.9,700.71 166.08,702.29 166.25,696.72 166.43,699.75 166.6,700.47 166.78,699.05 166.95,699.74 167.12,699.67 167.3,696.76 167.47,696.28 167.65,698.14 167.82,698.45 168,695 168.17,694.82 168.34,693.92 168.52,690.7 168.69,696.49 168.87,696.94 169.04,693.97 169.22,693.89 169.39,695.02 169.56,694.65 169.74,695.19 169.91,692.05 170.09,690.73 170.26,686.85 170.43,690.35 170.61,687.1 170.78,690.77 170.96,687.9 171.13,690.54 171.31,688.33 171.48,687.43 171.65,687.61 171.83,687.05 172,688.71 172.18,682.68 172.35,685.42 172.53,681.79 172.7,683.69 172.87,686.85 173.05,682.21 173.22,687 173.4,684.72 173.57,682.66 173.75,688.3 173.92,682.77 174.09,683.37 174.27,684.68 174.44,682.23 174.62,682.47 174.79,679.04 174.97,683.65 175.14,682.11 175.31,680.28 175.49,682.48 175.66,678.19 175.84,680.22 176.01,681.05 176.18,677.88 176.36,681.11 176.53,676.41 176.71,676.76 176.88,673.37 177.06,678.17 177.23,679 177.4,677.81 177.58,677.76 177.75,672.76 177.93,674.57 178.1,679 178.28,678.87 178.45,677.64 178.62,678.04 178.8,680.28 178.97,675.72 179.15,673.42 179.32,671.52 179.5,677.32 179.67,677.4 179.84,677.63 180.02,676.46 180.19,673.7 180.37,670.81 180.54,675.04 180.72,670.15 180.89,672.42 181.06,678.16 181.24,668.9 181.41,670.03 181.59,676.99 181.76,667.52 181.93,674.58 182.11,666.15 182.28,668.11 182.46,670.57 182.63,668.4 182.81,669.28 182.98,664.84 183.15,672.57 183.33,668.03 183.5,670.66 183.68,663.51 183.85,669.09 184.03,669.82 184.2,666.33 184.37,672.5 184.55,662.5 184.72,667.13 184.9,668.71 185.07,665.4 185.25,665.35 185.42,668.38 185.59,667.1 185.77,665.66 185.94,670.85 186.12,664.34 186.29,664.44 186.46,669.64 186.64,668.07 186.81,666.53 186.99,670.04 187.16,668.53 187.34,660.95 187.51,669.71 187.68,667.42 187.86,660.55 188.03,661.28 188.21,660.01 188.38,662.89 188.56,663.02 188.73,665.17 188.9,662.17 189.08,667.68 189.25,666.66 189.43,661.52 189.6,661.9 189.78,660.09 189.95,658.89 190.12,668.2 190.3,658.91 190.47,657.96 190.65,666.79 190.82,658.57 191,664.9 191.17,663.24 191.34,664.78 191.52,659.96 191.69,658.64 191.87,664.9 192.04,659.45 192.21,659.78 192.39,663.09 192.56,657.03 192.74,658.67 192.91,660.67 193.09,657.87 193.26,660.25 193.43,664.6 193.61,661.93 193.78,663.53 193.96,660.77 194.13,657.62 194.31,662.97 194.48,659.97 194.65,655.23 194.83,653.98 195,662.96 195.18,655.61 195.35,661.06 195.53,658.06 195.7,660.63 195.87,658.34 196.05,652.22 196.22,658.91 196.4,657.56 196.57,652.75 196.75,661.34 196.92,658.82 197.09,653.76 197.27,660.23 197.44,657.17 197.62,662.29 197.79,661.49 197.96,665.52 198.14,651.31 198.31,658.17 198.49,654.33 198.66,658.55 198.84,659.18 199.01,660.37 199.18,651.88 199.36,654.72 199.53,661.07 199.71,654.72 199.88,654.72 200.06,650.22 200.23,658.92 200.4,656.21 200.58,658.46 200.75,657.8 200.93,654.55 201.1,661.15 201.28,656.79 201.45,654.16 201.62,658.23 201.8,660.27 201.97,656.92 202.15,655.33 202.32,657.71 202.5,651.96 202.67,651.27 202.84,653.52 203.02,658.38 203.19,653.05 203.37,658.42 203.54,650.59 203.71,650.27 203.89,653.31 204.06,652.71 204.24,649.3 204.41,650.93 204.59,654.25 204.76,654.67 204.93,656.86 205.11,651.76 205.28,655.19 205.46,654.5 205.63,650.23 205.81,646.23 205.98,650.77 206.15,656.48 206.33,655.5 206.5,652.91 206.68,650.51 206.85,648.34 207.03,644.81 207.2,647.9 207.37,653.61 207.55,652.46 207.72,648.09 207.9,655.06 208.07,646.18 208.24,652.05 208.42,647.55 208.59,649.85 208.77,651.73 208.94,653.09 209.12,654.5 209.29,648.35 209.46,650.17 209.64,654.86 209.81,651.24 209.99,652.59 210.16,656.78 210.34,649.2 210.51,649.71 210.68,655.51 210.86,651.8 211.03,653.35 211.21,651.69 211.38,650.23 211.56,646.12 211.73,650.6 211.9,653.09 212.08,649.87 212.25,643.63 212.43,650.24 212.6,646.29 212.78,646.37 212.95,652.36 213.12,652.39 213.3,647.05 213.47,651.36 213.65,644.52 213.82,649.68 213.99,651.17 214.17,649.83 214.34,650.91 214.52,645.87 214.69,648.02 214.87,646.23 215.04,645.73 215.21,649.21 215.39,642.61 215.56,642.56 215.74,650.54 215.91,648.51 216.09,646.07 216.26,644.6 216.43,650.14 216.61,646.56 216.78,649 216.96,652.47 217.13,645.61 217.31,648.22 217.48,643.22 217.65,647.35 217.83,643.58 218,653.24 218.18,647.48 218.35,655.97 218.53,651.02 218.7,642.99 218.87,643 219.05,647.49 219.22,644.91 219.4,642.94 219.57,643.69 219.74,642.58 219.92,643.71 220.09,643.88 220.27,642.09 220.44,644.97 220.62,644.19 220.79,648.05 220.96,642.22 221.14,648.21 221.31,645.31 221.49,644.12 221.66,645.17 221.84,647.68 222.01,646.59 222.18,654.36 222.36,646.05 222.53,640.86 222.71,640.93 222.88,649.84 223.06,645.87 223.23,641.32 223.4,647.47 223.58,645.38 223.75,647.88 223.93,641.54 224.1,649.33 224.28,650.46 224.45,644 224.62,644.75 224.8,639.9 224.97,649.23 225.15,646.45 225.32,639.98 225.49,645.63 225.67,643.76 225.84,649.57 226.02,645.15 226.19,643.12 226.37,644.88 226.54,645.3 226.71,646.04 226.89,643.28 227.06,642.11 227.24,636.91 227.41,643.91 227.59,641.51 227.76,639.03 227.93,643.36 228.11,646.96 228.28,639.76 228.46,639.36 228.63,642.01 228.81,644.29 228.98,639.56 229.15,643.25 229.33,640.38 229.5,644.31 229.68,638.28 229.85,648.61 230.02,647.68 230.2,639.66 230.37,645.06 230.55,643.56 230.72,647.29 230.9,643.03 231.07,643.13 231.24,640.49 231.42,639.93 231.59,645.61 231.77,637.15 231.94,644.58 232.12,643.31 232.29,638.11 232.46,642.88 232.64,643.67 232.81,639.2 232.99,637.59 233.16,644.79 233.34,647.78 233.51,637.58 233.68,645.49 233.86,645.11 234.03,640.04 234.21,642.72 234.38,639.92 234.56,641.73 234.73,644.97 234.9,648.82 235.08,638.63 235.25,643.68 235.43,638.93 235.6,636.23 235.77,645.25 235.95,637.4 236.12,643.15 236.3,640.17 236.47,639.73 236.65,637.12 236.82,641.37 236.99,648.69 237.17,647.97 237.34,636.19 237.52,638.09 237.69,636.23 237.87,644.23 238.04,639.11 238.21,636.02 238.39,645.88 238.56,633.53 238.74,641.05 238.91,634.69 239.09,636.08 239.26,641.37 239.43,636.59 239.61,640.19 239.78,638.62 239.96,633.67 240.13,638.89 240.31,643.65 240.48,636.62 240.65,637.7 240.83,639.46 241,640.73 241.18,645.75 241.35,641.43 241.52,638.33 241.7,639.05 241.87,632.71 242.05,636.75 242.22,638.46 242.4,643.34 242.57,635.97 242.74,637.63 242.92,638.1 243.09,635.05 243.27,636.05 243.44,634.59 243.62,635.47 243.79,637.56 243.96,632.17 244.14,643.41 244.31,640.23 244.49,640.12 244.66,641.85 244.84,637.07 245.01,644.21 245.18,640.14 245.36,637.92 245.53,638.18 245.71,638.54 245.88,638.07 246.06,636.2 246.23,638.41 246.4,636.02 246.58,634.42 246.75,635.66 246.93,633.57 247.1,631.23 247.27,636.24 247.45,629.67 247.62,635.92 247.8,632.92 247.97,643.88 248.15,640.75 248.32,632.1 248.49,641.46 248.67,639.97 248.84,639.15 249.02,633.56 249.19,630.59 249.37,634.52 249.54,638.91 249.71,637.3 249.89,639.67 250.06,641.86 250.24,639.24 250.41,637.18 250.59,637.81 250.76,635.47 250.93,633.91 251.11,641.84 251.28,641.28 251.46,636.73 251.63,628.5 251.8,632.57 251.98,636.67 252.15,631.25 252.33,638.24 252.5,636.99 252.68,633.46 252.85,642.16 253.02,631.38 253.2,641.69 253.37,634.85 253.55,629.34 253.72,641.76 253.9,636.44 254.07,640.96 254.24,640.89 254.42,637.48 254.59,636.43 254.77,632.87 254.94,638.49 255.12,632.22 255.29,631.27 255.46,633.97 255.64,629.45 255.81,633.39 255.99,629.9 256.16,635.54 256.34,625.98 256.51,632.3 256.68,631.55 256.86,641.53 257.03,635.84 257.21,629.48 257.38,632.65 257.4,629.9" fill="none" stroke="#000" stroke-width="1.5" stroke-linejoin="round"/>
<polyline points="310.4,761.11 310.57,761.03 310.75,760.96 310.92,760.9 311.1,760.84 311.27,760.79 311.45,760.74 311.62,760.7 311.79,760.66 311.97,760.63 312.14,760.6 312.32,760.58 312.49,760.55 312.67,760.54 312.84,760.52 313.01,760.51 313.19,760.5 313.36,760.49 313.54,760.48 313.71,760.48 313.89,760.47 314.06,760.47 314.24,760.47 314.41,760.47 314.58,760.47 314.76,760.52 314.93,760.82 315.11,761.35 315.28,762.9 315.46,765.21 315.63,767.62 315.8,769.48 315.98,770.74 316.15,771.96 316.33,772.96 316.5,773.56 316.68,773.66 316.85,773.67 317.02,773.67 317.2,773.67 317.37,773.68 317.55,773.68 317.72,773.68 317.9,773.69 318.07,773.69 318.24,773.69 318.42,773.7 318.59,773.7 318.77,773.7 318.94,773.7 319.12,773.71 319.29,773.71 319.47,773.71 319.64,773.72 319.81,773.72 319.99,773.72 320.16,773.72 320.34,773.73 320.51,773.73 320.69,773.73 320.86,773.73 321.03,773.74 321.21,773.74 321.38,773.74 321.56,773.74 321.73,773.75 321.91,773.75 322.08,773.75 322.25,773.75 322.43,773.76 322.6,773.76 322.78,773.76 322.95,773.76 323.13,773.77 323.3,773.77 323.47,773.77 323.65,773.77 323.82,773.77 324,773.78 324.17,773.78 324.35,773.78 324.52,773.78 324.7,773.78 324.87,773.79 325.04,773.79 325.22,773.79 325.39,773.79 325.57,773.79 325.74,773.79 325.92,773.8 326.09,773.8 326.26,773.8 326.44,773.8 326.61,773.8 326.79,773.8 326.96,773.81 327.14,773.81 327.31,773.81 327.48,773.81 327.66,773.81 327.83,773.81 328.01,773.82 328.18,773.82 328.36,773.82 328.53,773.82 328.7,773.82 328.88,773.82 329.05,773.82 329.23,773.82 329.4,773.83 329.58,773.83 329.75,773.83 329.92,773.83 330.1,773.83 330.27,773.83 330.45,773.83 330.62,773.83 330.8,773.84 330.97,773.84 331.15,773.84 331.32,773.84 331.49,773.84 331.67,773.84 331.84,773.84 332.02,773.84 332.19,773.84 332.37,773.84 332.54,773.85 332.71,773.85 332.89,773.85 333.06,773.85 333.24,773.85 333.41,773.85 333.59,773.85 333.76,773.85 333.93,773.85 334.11,773.85 334.28,773.85 334.46,773.85 334.63,773.86 334.81,773.86 334.98,773.86 335.15,773.86 335.33,773.86 335.5,773.86 335.68,773.86 335.85,773.86 336.03,773.86 336.2,773.86 336.38,773.86 336.55,773.86 336.72,773.86 336.9,773.86 337.07,773.86 337.25,773.86 337.42,773.86 337.6,773.87 337.77,773.87 337.94,773.87 338.12,773.87 338.29,773.87 338.47,773.87 338.64,773.87 338.82,773.87 338.99,773.87 339.16,773.87 339.34,773.87 339.51,773.87 339.69,773.87 339.86,773.87 340.04,773.87 340.21,773.87 340.38,773.87 340.56,773.87 340.73,773.87 340.91,773.87 341.08,773.87 341.26,773.87 341.43,773.87 341.61,773.87 341.78,773.87 341.95,773.87 342.13,773.87 342.3,773.87 342.48,773.87 342.65,773.87 342.83,773.87 343,773.87 343.17,773.87 343.35,773.87 343.52,773.87 343.7,773.87 343.87,773.87 344.05,773.87 344.22,773.87 344.39,773.88 344.57,773.88 344.74,773.88 344.92,773.88 345.09,773.88 345.27,773.88 345.44,773.88 345.61,773.88 345.79,773.88 345.96,773.88 346.14,773.88 346.31,773.88 346.49,773.88 346.66,773.88 346.83,773.88 347.01,773.88 347.18,773.88 347.36,773.88 347.53,773.88 347.71,773.88 347.88,773.88 348.06,773.88 348.23,773.88 348.4,773.88 348.58,773.88 348.75,773.88 348.93,773.88 349.1,773.88 349.28,773.88 349.45,773.88 349.62,773.88 349.8,773.88 349.97,773.88 350.15,773.88 350.32,773.88 350.5,773.88 350.67,773.88 350.84,773.88 351.02,773.88 351.19,773.88 351.37,773.88 351.54,773.88 351.72,773.88 351.89,773.88 352.06,773.88 352.24,773.88 352.41,773.88 352.59,773.88 352.76,773.88 352.94,773.88 353.11,773.88 353.29,773.88 353.46,773.88 353.63,773.88 353.81,773.88 353.98,773.88 354.16,773.88 354.33,773.88 354.51,773.88 354.68,773.88 354.85,773.88 355.03,773.88 355.2,773.88 355.38,773.88 355.55,773.88 355.73,773.88 355.9,773.88 356.07,773.88 356.25,773.88 356.42,773.88 356.6,773.88 356.77,773.88 356.95,773.88 357.12,773.88 357.29,773.88 357.47,773.88 357.64,773.88 357.82,773.88 357.99,773.88 358.17,773.88 358.34,773.88 358.52,773.88 358.69,773.88 358.86,773.88 359.04,773.88 359.21,773.88 359.39,773.88 359.56,773.88 359.74,773.88 359.91,773.88 360.08,773.88 360.26,773.88 360.43,773.88 360.61,773.88 360.78,773.88 360.96,773.88 361.13,773.88 361.3,773.88 361.48,773.88 361.65,773.88 361.83,773.88 362,773.88 362.18,773.88 362.35,773.88 362.52,773.88 362.7,773.88 362.87,773.88 363.05,773.88 363.22,773.88 363.4,773.88 363.57,773.88 363.74,773.88 363.92,773.88 364.09,773.88 364.27,773.88 364.44,773.88 364.62,773.88 364.79,773.88 364.97,773.88 365.14,773.88 365.31,773.88 365.49,773.88 365.66,773.88 365.84,773.88 366.01,773.88 366.19,773.88 366.36,773.88 366.53,773.88 366.71,773.88 366.88,773.88 367.06,773.88 367.23,773.88 367.41,773.88 367.58,773.88 367.75,773.88 367.93,773.88 368.1,773.88 368.28,773.88 368.45,773.88 368.63,773.88 368.8,773.88 368.97,773.88 369.15,773.88 369.32,773.88 369.5,773.88 369.67,773.88 369.85,773.88 370.02,773.88 370.2,773.88 370.37,773.88 370.54,773.88 370.72,773.88 370.89,773.88 371.07,773.88 371.24,773.88 371.42,773.88 371.59,773.88 371.76,773.88 371.94,773.88 372.11,773.88 372.29,773.88 372.46,773.88 372.64,773.88 372.81,773.88 372.98,773.88 373.16,773.88 373.33,773.88 373.51,773.88 373.68,773.88 373.86,773.88 374.03,773.88 374.2,773.88 374.38,773.88 374.55,773.88 374.73,773.88 374.9,773.88 375.08,773.88 375.25,773.88 375.43,773.88 375.6,773.88 375.77,773.88 375.95,773.88 376.12,773.88 376.3,773.88 376.47,773.88 376.65,773.88 376.82,773.88 376.99,773.88 377.17,773.88 377.34,773.88 377.52,773.88 377.69,773.88 377.87,773.88 378.04,773.88 378.21,773.88 378.39,773.88 378.56,773.88 378.74,773.88 378.91,773.88 379.09,773.88 379.26,773.88 379.43,773.88 379.61,773.88 379.78,773.88 379.96,773.88 380.13,773.88 380.31,773.88 380.48,773.88 380.65,773.88 380.81,766.43" fill="none" stroke="#000" stroke-width="1.5" stroke-linejoin="round"/>
<polyline points="380.81,766.43 380.98,758.82 381.16,758.69 381.33,758.59 381.51,758.53 381.68,758.48 381.86,758.45 382.03,758.43 382.2,758.4 382.38,758.36 382.55,758.31 382.73,758.26 382.9,758.22 383.08,758.17 383.25,758.13 383.42,758.09 383.6,758.05 383.77,758.02 383.95,757.98 384.12,757.94 384.3,757.91 384.47,757.87 384.65,757.84 384.82,757.8 384.99,757.76 385.17,757.72 385.34,757.67 385.52,757.62 385.69,757.57 385.87,757.52 386.04,757.46 386.21,757.39 386.39,757.33 386.56,757.26 386.74,757.18 386.91,757.11 387.09,757.03 387.26,756.94 387.43,756.86 387.61,756.77 387.78,756.67 387.96,756.58 388.13,756.48 388.31,756.38 388.48,756.27 388.65,756.17 388.83,756.06 389,755.94 389.18,755.83 389.35,755.71 389.53,755.59 389.7,755.47 389.88,755.34 390.05,755.21 390.22,755.08 390.4,754.95 390.57,754.82 390.75,754.68 390.92,754.54 391.1,754.4 391.27,754.26 391.44,754.12 391.62,753.97 391.79,753.83 391.97,753.68 392.14,753.52 392.32,753.37 392.49,753.2 392.66,753.03 392.84,752.85 393.01,752.66 393.19,752.47 393.36,752.28 393.54,752.08 393.71,751.87 393.88,751.66 394.06,751.44 394.23,751.22 394.41,750.99 394.58,750.76 394.76,750.53 394.93,750.29 395.11,750.04 395.28,749.8 395.45,749.55 395.63,749.29 395.8,749.04 395.98,748.78 396.15,748.51 396.33,748.25 396.5,747.98 396.67,747.71 396.85,747.44 397.02,747.17 397.2,746.89 397.37,746.61 397.55,746.34 397.72,746.06 397.89,745.78 398.07,745.5 398.24,745.22 398.42,744.93 398.59,744.65 398.77,744.37 398.94,744.09 399.11,743.81 399.29,743.53 399.46,743.25 399.64,742.97 399.81,742.69 399.99,742.41 400.16,742.13 400.33,741.84 400.51,741.54 400.68,741.23 400.86,740.92 401.03,740.6 401.21,740.27 401.38,739.95 401.56,739.61 401.73,739.28 401.9,738.95 402.08,738.62 402.25,738.29 402.43,737.96 402.6,737.64 402.78,737.33 402.95,737.02 403.12,736.71 403.3,736.42 403.47,736.14 403.65,735.87 403.82,735.61 404,735.36 404.17,735.12 404.34,734.89 404.52,734.66 404.69,734.43 404.87,734.2 405.04,733.98 405.22,733.76 405.39,733.55 405.56,733.33 405.74,733.12 405.91,732.92 406.09,732.71 406.26,732.51 406.44,732.31 406.61,732.11 406.79,731.92 406.96,731.73 407.13,731.54 407.31,731.36 407.48,731.17 407.66,730.99 407.83,730.81 408.01,730.64 408.18,730.46 408.35,730.29 408.53,730.12 408.7,729.95 408.88,729.79 409.05,729.62 409.23,729.46 409.4,729.3 409.57,729.14 409.75,728.99 409.92,728.83 410.1,728.68 410.27,728.53 410.45,728.38 410.62,728.23 410.79,728.08 410.97,727.94 411.14,727.79 411.32,727.65 411.49,727.51 411.67,727.38 411.84,727.24 412.02,727.11 412.19,726.98 412.36,726.85 412.54,726.73 412.71,726.6 412.89,726.48 413.06,726.36 413.24,726.25 413.41,726.14 413.58,726.03 413.76,725.92 413.93,725.82 414.11,725.72 414.28,725.62 414.46,725.53 414.63,725.44 414.8,725.35 414.98,725.26 415.15,725.18 415.33,725.1 415.5,725.03 415.68,724.95 415.85,724.88 416.02,724.8 416.2,724.73 416.37,724.66 416.55,724.59 416.72,724.52 416.9,724.45 417.07,724.38 417.24,724.31 417.42,724.24 417.59,724.17 417.77,724.1 417.94,724.03 418.12,723.95 418.29,723.88 418.47,723.8 418.64,723.72 418.81,723.64 418.99,723.56 419.16,723.47 419.34,723.38 419.51,723.29 419.69,723.2 419.86,723.1 420.03,722.99 420.21,722.89 420.38,722.78 420.56,722.66 420.73,722.55 420.91,722.43 421.08,722.3 421.25,722.18 421.43,722.05 421.6,721.92 421.78,721.78 421.95,721.64 422.13,721.5 422.3,721.36 422.47,721.21 422.65,721.06 422.82,720.91 423,720.73 423.17,720.63 423.35,720.45 423.52,720.23 423.7,720.12 423.87,720.05 424.04,719.96 424.22,719.5 424.39,719.61 424.57,719.02 424.74,719.22 424.92,719.14 425.09,718.67 425.26,718.8 425.44,718.03 425.61,718.4 425.79,717.43 425.96,717.63 426.14,717.62 426.31,717.54 426.48,716.84 426.66,716.94 426.83,716.51 427.01,716.28 427.18,715.67 427.36,716.27 427.53,715.39 427.7,715.59 427.88,714.65 428.05,714.94 428.23,715.46 428.4,714.36 428.58,713.85 428.75,712.98 428.93,713.48 429.1,714.02 429.27,713.78 429.45,712.24 429.62,713.2 429.8,711.93 429.97,712.08 430.15,711.97 430.32,712.09 430.49,711.95 430.67,710.28 430.84,711.18 431.02,709.3 431.19,709.72 431.37,710.56 431.54,707.91 431.71,709.73 431.89,707.38 432.06,708.35 432.24,706.81 432.41,705.98 432.59,706.34 432.76,707.24 432.93,706.02 433.11,706.25 433.28,705.7 433.46,704.74 433.63,702.88 433.81,704.66 433.98,702.7 434.15,704.27 434.33,703.09 434.5,701.8 434.68,702.31 434.85,701.85 435.03,701.18 435.2,700.02 435.38,700.79 435.55,700.87 435.72,700.27 435.9,699.5 436.07,700.19 436.25,697.82 436.42,699.52 436.6,699.97 436.77,698.6 436.94,699.61 437.12,697.07 437.29,697.04 437.47,698.13 437.64,696.93 437.82,696.32 437.99,697.77 438.16,697.94 438.34,696.75 438.51,696.83 438.69,695.58 438.86,693.8 439.04,694.62 439.21,695.67 439.38,695.44 439.56,695.33 439.73,692.45 439.91,692.32 440.08,692.07 440.26,693.4 440.43,693.42 440.61,694.26 440.78,691.41 440.95,689.77 441.13,691.03 441.3,693.39 441.48,690.51 441.65,693.59 441.83,690.2 442,689.28 442.17,687.97 442.35,687.83 442.52,691.04 442.7,689.22 442.87,693.07 443.05,691.8 443.22,686.83 443.39,690.59 443.57,689.79 443.74,689.24 443.92,687.57 444.09,687.53 444.27,689.7 444.44,687.19 444.61,684.87 444.79,683.55 444.96,684.49 445.14,683.42 445.31,689.61 445.49,686.38 445.66,681.01 445.84,688.62 446.01,682.88 446.18,682.2 446.36,683.93 446.53,679.35 446.71,683.96 446.88,678.7 447.06,680.45 447.23,681.57 447.4,679.89 447.58,678.55 447.75,681.25 447.93,686.35 448.1,680.98 448.28,681.92 448.45,681.29 448.62,677.77 448.8,677.41 448.97,681.22 449.15,674.42 449.32,674.08 449.5,676.03 449.67,673.15 449.84,676.67 450.02,680 450.19,680.5 450.37,673.4 450.54,673.45 450.72,673.24 450.89,675.69 451.06,668.02 451.24,677.39 451.41,671.89 451.59,668.53 451.76,667.58 451.94,672.51 452.11,673.27 452.29,671.09 452.46,666.81 452.63,672.34 452.81,663.67 452.98,665.37 453.16,670.7 453.33,668.34 453.51,667.86 453.68,669 453.85,669.96 454.03,668.78 454.2,664.47 454.38,663.38 454.55,665.05 454.73,666.48 454.9,661.7 455.07,662.79 455.25,663.99 455.42,659.07 455.6,663.41 455.77,664.3 455.95,667.28 456.12,659.99 456.29,661.33 456.47,656.2 456.64,656.57 456.82,667.89 456.99,661.27 457.17,665.95 457.34,655.66 457.52,657.29 457.69,664.89 457.86,659.85 458.04,667.18 458.21,660.08 458.39,650.92 458.56,662.24 458.74,656.09 458.91,661.38 459.08,660.15 459.26,656.39 459.43,655.61 459.61,663.11 459.78,657.68 459.96,656.23 460.13,661.97 460.3,655.52 460.48,653.17 460.65,649.82 460.83,661.34 461,659.17 461.18,655.75 461.35,659.67 461.52,653.44 461.7,663.42 461.87,650.32 462.05,656.09 462.22,656.37 462.4,654.31 462.57,648.92 462.75,653.72 462.92,652.19 463.09,657.49 463.27,653.11 463.44,651.49 463.62,648.55 463.79,649.02 463.97,648.61 464.14,652.64 464.31,653.56 464.49,655.05 464.66,648.02 464.84,646.93 465.01,650.06 465.19,651.24 465.36,650.86 465.53,650.51 465.71,646.14 465.88,649.28 466.06,654.95 466.23,653 466.41,648.19 466.58,653.06 466.75,647.33 466.93,647.42 467.1,652.27 467.28,655.01 467.45,646.24 467.63,654.48 467.8,651.52 467.97,643.83 468.15,650.3 468.32,645.29 468.5,646.92 468.67,651.45 468.85,649.45 469.02,645.33 469.2,648.8 469.37,648.45 469.54,645.05 469.72,651.9 469.89,651.7 470.07,654.57 470.24,641.06 470.42,647.83 470.59,644.22 470.76,643.02 470.94,645.79 471.11,649.71 471.29,650.74 471.46,645.89 471.64,653.23 471.81,648.5 471.98,648.94 472.16,640.11 472.33,652.32 472.51,644.27 472.68,650.66 472.86,646.58 473.03,649.01 473.2,642.74 473.38,647 473.55,639.06 473.73,647.24 473.9,643.42 474.08,648.74 474.25,640.54 474.43,644.04 474.6,648.42 474.77,647.57 474.95,644.49 475.12,639.9 475.3,643.09 475.47,640.45 475.65,645.8 475.82,647.13 475.99,648.26 476.17,634.76 476.34,642.15 476.52,646.14 476.69,638.57 476.87,641.42 477.04,644.04 477.21,649.25 477.39,638.97 477.56,635.25 477.74,645.62 477.91,642.48 478.09,641.65 478.26,639.5 478.43,643.01 478.61,642.6 478.78,642.66 478.96,643.74 479.13,643.17 479.31,644.95 479.48,635.27 479.66,635.25 479.83,644.58 480,640.22 480.18,644.09 480.35,641.91 480.53,639.24 480.7,636.52 480.88,641.25 481.05,642.06 481.22,639.23 481.4,643.4 481.57,640.7 481.75,637.05 481.92,637.04 482.1,643.26 482.27,643.93 482.44,640.37 482.62,638.28 482.79,632.68 482.97,646.22 483.14,643.52 483.32,643.79 483.49,644.02 483.66,642.54 483.84,638.12 484.01,638.11 484.19,640.43 484.36,640.34 484.54,632.72 484.71,632.75 484.88,645.15 485.06,647.67 485.23,648.16 485.41,639.53 485.58,645.37 485.76,642.42 485.93,635.3 486.11,633.83 486.28,632.26 486.45,638.09 486.63,628.2 486.8,638.87 486.98,632.14 487.15,639.04 487.33,634.29 487.5,640.08 487.67,641.36 487.85,633.85 488.02,638.16 488.2,630.75 488.37,634.64 488.55,639.3 488.72,641.56 488.89,635.14 489.07,628.62 489.24,629.69 489.42,634.76 489.59,630.6 489.77,639.56 489.94,630.52 490.11,637.8 490.29,629.55 490.46,638.77 490.64,640.38 490.81,637.94 490.99,637.21 491.16,641.02 491.34,628.98 491.51,628.62 491.68,634.35 491.86,635.82 492.03,639.27 492.21,638.98 492.38,638.98 492.56,636.02 492.73,637.89 492.9,632.71 493.08,638.98 493.25,638.86 493.43,637.11 493.6,628.92 493.78,633.29 493.95,629.23 494.12,629.73 494.3,631.28 494.47,633.09 494.65,634.63 494.82,639.78 495,627.43 495.17,636.91 495.34,634.35 495.52,624.98 495.69,630.12 495.87,634.21 496.04,638.2 496.22,636.71 496.39,628.75 496.57,636.54 496.74,630.78 496.91,636.36 497.09,629.28 497.26,630.71 497.44,637.24 497.61,631.13 497.79,633.21 497.96,634.95 498.13,639.74 498.31,635.17 498.48,628.99 498.66,637.03 498.83,630.25 499.01,632.75 499.18,637.69 499.35,629.98 499.53,634.87 499.7,635.12 499.88,632.1 500.05,631.54 500.23,634.4 500.4,626.7 500.57,632.58 500.75,631.53 500.92,635.33 501.1,623.14 501.27,630.83 501.45,628.35 501.62,629.68 501.79,627.28 501.97,633.54 502.14,627.53 502.32,633.45 502.49,631.09 502.67,626.81 502.84,635.97 503.02,630.41 503.19,627.68 503.36,635.06 503.54,635.42 503.71,629.4 503.89,628.43 504.06,626.08 504.1,632.42" fill="none" stroke="#000" stroke-width="1.5" stroke-linejoin="round"/>
<polyline points="310.4,761.11 310.57,761.03 310.75,760.96 310.92,760.9 311.1,760.84 311.27,760.79 311.45,760.74 311.62,760.7 311.79,760.66 311.97,760.63 312.14,760.6 312.32,760.58 312.49,760.55 312.67,760.54 312.84,760.52 313.01,760.51 313.19,760.5 313.36,760.49 313.54,760.48 313.71,760.48 313.89,760.47 314.06,760.47 314.24,760.47 314.41,760.47 314.58,760.47 314.76,760.53 314.93,760.85 315.11,761.26 315.28,761.91 315.46,762.7 315.63,763.42 315.8,763.85 315.98,764.01 316.15,764.14 316.33,764.24 316.5,764.29 316.68,764.3 316.85,764.3 317.02,764.3 317.2,764.3 317.37,764.3 317.55,764.3 317.72,764.3 317.9,764.3 318.07,764.3 318.24,764.3 318.42,764.3 318.59,764.3 318.77,764.3 318.94,764.29 319.12,764.29 319.29,764.29 319.47,764.29 319.64,764.29 319.81,764.29 319.99,764.29 320.16,764.29 320.34,764.29 320.51,764.28 320.69,764.28 320.86,764.28 321.03,764.28 321.21,764.28 321.38,764.28 321.56,764.28 321.73,764.27 321.91,764.27 322.08,764.27 322.25,764.27 322.43,764.27 322.6,764.27 322.78,764.26 322.95,764.26 323.13,764.26 323.3,764.26 323.47,764.25 323.65,764.25 323.82,764.25 324,764.25 324.17,764.25 324.35,764.24 324.52,764.24 324.7,764.24 324.87,764.24 325.04,764.23 325.22,764.23 325.39,764.23 325.57,764.23 325.74,764.22 325.92,764.22 326.09,764.22 326.26,764.21 326.44,764.21 326.61,764.21 326.79,764.21 326.96,764.2 327.14,764.2 327.31,764.2 327.48,764.19 327.66,764.19 327.83,764.19 328.01,764.18 328.18,764.18 328.36,764.18 328.53,764.17 328.7,764.17 328.88,764.17 329.05,764.16 329.23,764.16 329.4,764.16 329.58,764.15 329.75,764.15 329.92,764.15 330.1,764.14 330.27,764.14 330.45,764.14 330.62,764.13 330.8,764.13 330.97,764.12 331.15,764.12 331.32,764.12 331.49,764.11 331.67,764.11 331.84,764.11 332.02,764.1 332.19,764.1 332.37,764.09 332.54,764.09 332.71,764.09 332.89,764.08 333.06,764.08 333.24,764.07 333.41,764.07 333.59,764.06 333.76,764.06 333.93,764.06 334.11,764.05 334.28,764.05 334.46,764.04 334.63,764.04 334.81,764.04 334.98,764.03 335.15,764.03 335.33,764.02 335.5,764.02 335.68,764.01 335.85,764.01 336.03,764.01 336.2,764 336.38,764 336.55,763.99 336.72,763.99 336.9,763.98 337.07,763.98 337.25,763.97 337.42,763.97 337.6,763.96 337.77,763.96 337.94,763.96 338.12,763.95 338.29,763.95 338.47,763.94 338.64,763.94 338.82,763.93 338.99,763.93 339.16,763.92 339.34,763.92 339.51,763.91 339.69,763.91 339.86,763.91 340.04,763.9 340.21,763.9 340.38,763.89 340.56,763.89 340.73,763.88 340.91,763.88 341.08,763.87 341.26,763.87 341.43,763.86 341.61,763.86 341.78,763.85 341.95,763.85 342.13,763.84 342.3,763.84 342.48,763.84 342.65,763.83 342.83,763.83 343,763.82 343.17,763.82 343.35,763.81 343.52,763.81 343.7,763.8 343.87,763.8 344.05,763.79 344.22,763.79 344.39,763.78 344.57,763.78 344.74,763.78 344.92,763.77 345.09,763.77 345.27,763.76 345.44,763.76 345.61,763.75 345.79,763.75 345.96,763.74 346.14,763.74 346.31,763.73 346.49,763.73 346.66,763.72 346.83,763.72 347.01,763.72 347.18,763.71 347.36,763.71 347.53,763.7 347.71,763.7 347.88,763.69 348.06,763.69 348.23,763.68 348.4,763.68 348.58,763.68 348.75,763.67 348.93,763.67 349.1,763.66 349.28,763.66 349.45,763.65 349.62,763.65 349.8,763.65 349.97,763.64 350.15,763.64 350.32,763.63 350.5,763.63 350.67,763.63 350.84,763.62 351.02,763.62 351.19,763.62 351.37,763.61 351.54,763.61 351.72,763.61 351.89,763.6 352.06,763.6 352.24,763.6 352.41,763.6 352.59,763.59 352.76,763.59 352.94,763.59 353.11,763.58 353.29,763.58 353.46,763.58 353.63,763.58 353.81,763.57 353.98,763.57 354.16,763.57 354.33,763.57 354.51,763.56 354.68,763.56 354.85,763.56 355.03,763.56 355.2,763.56 355.38,763.55 355.55,763.55 355.73,763.55 355.9,763.55 356.07,763.55 356.25,763.54 356.42,763.54 356.6,763.54 356.77,763.54 356.95,763.54 357.12,763.53 357.29,763.53 357.47,763.53 357.64,763.53 357.82,763.53 357.99,763.52 358.17,763.52 358.34,763.52 358.52,763.52 358.69,763.52 358.86,763.51 359.04,763.51 359.21,763.51 359.39,763.51 359.56,763.51 359.74,763.51 359.91,763.5 360.08,763.5 360.26,763.5 360.43,763.5 360.61,763.49 360.78,763.49 360.96,763.49 361.13,763.49 361.3,763.49 361.48,763.48 361.65,763.48 361.83,763.48 362,763.48 362.18,763.47 362.35,763.47 362.52,763.47 362.7,763.47 362.87,763.47 363.05,763.46 363.22,763.46 363.4,763.46 363.57,763.45 363.74,763.45 363.92,763.45 364.09,763.45 364.27,763.44 364.44,763.44 364.62,763.44 364.79,763.43 364.97,763.43 365.14,763.43 365.31,763.42 365.49,763.42 365.66,763.42 365.84,763.41 366.01,763.41 366.19,763.4 366.36,763.4 366.53,763.4 366.71,763.39 366.88,763.39 367.06,763.38 367.23,763.38 367.41,763.38 367.58,763.37 367.75,763.37 367.93,763.36 368.1,763.36 368.28,763.35 368.45,763.35 368.63,763.34 368.8,763.34 368.97,763.33 369.15,763.32 369.32,763.32 369.5,763.31 369.67,763.31 369.85,763.3 370.02,763.3 370.2,763.29 370.37,763.28 370.54,763.28 370.72,763.27 370.89,763.26 371.07,763.26 371.24,763.25 371.42,763.24 371.59,763.23 371.76,763.23 371.94,763.22 372.11,763.21 372.29,763.2 372.46,763.2 372.64,763.19 372.81,763.18 372.98,763.17 373.16,763.16 373.33,763.15 373.51,763.14 373.68,763.13 373.86,763.12 374.03,763.12 374.2,763.11 374.38,763.1 374.55,763.09 374.73,763.08 374.9,763.07 375.08,763.05 375.25,763.04 375.43,763.03 375.6,763.02 375.77,763.01 375.95,763 376.12,762.99 376.3,762.98 376.47,762.96 376.65,762.95 376.82,762.94 376.99,762.93 377.17,762.91 377.34,762.9 377.52,762.89 377.69,762.87 377.87,762.86 378.04,762.85 378.21,762.83 378.39,762.82 378.56,762.8 378.74,762.79 378.91,762.77 379.09,762.76 379.26,762.74 379.43,762.73 379.61,762.71 379.78,762.7 379.96,762.68 380.13,762.66 380.31,762.65 380.48,762.63 380.65,762.61 380.81,756.87" fill="none" stroke="#000" stroke-width="1.5" stroke-linejoin="round"/>
<polyline points="380.81,756.87 380.98,750.68 381.16,750.32 381.33,750.05 381.51,749.86 381.68,749.73 381.86,749.64 382.03,749.58 382.2,749.52 382.38,749.44 382.55,749.35 382.73,749.26 382.9,749.17 383.08,749.1 383.25,749.03 383.42,748.96 383.6,748.9 383.77,748.85 383.95,748.79 384.12,748.74 384.3,748.69 384.47,748.64 384.65,748.59 384.82,748.54 384.99,748.49 385.17,748.43 385.34,748.37 385.52,748.31 385.69,748.24 385.87,748.16 386.04,748.08 386.21,748 386.39,747.91 386.56,747.82 386.74,747.73 386.91,747.64 387.09,747.54 387.26,747.45 387.43,747.35 387.61,747.24 387.78,747.14 387.96,747.03 388.13,746.92 388.31,746.81 388.48,746.7 388.65,746.58 388.83,746.46 389,746.34 389.18,746.22 389.35,746.09 389.53,745.96 389.7,745.83 389.88,745.7 390.05,745.56 390.22,745.42 390.4,745.28 390.57,745.14 390.75,744.99 390.92,744.84 391.1,744.69 391.27,744.54 391.44,744.38 391.62,744.22 391.79,744.06 391.97,743.89 392.14,743.72 392.32,743.54 392.49,743.35 392.66,743.15 392.84,742.94 393.01,742.73 393.19,742.5 393.36,742.27 393.54,742.04 393.71,741.79 393.88,741.54 394.06,741.28 394.23,741.02 394.41,740.75 394.58,740.48 394.76,740.2 394.93,739.91 395.11,739.62 395.28,739.33 395.45,739.04 395.63,738.74 395.8,738.43 395.98,738.13 396.15,737.82 396.33,737.51 396.5,737.2 396.67,736.89 396.85,736.58 397.02,736.26 397.2,735.95 397.37,735.63 397.55,735.32 397.72,735.01 397.89,734.69 398.07,734.38 398.24,734.07 398.42,733.77 398.59,733.46 398.77,733.16 398.94,732.86 399.11,732.56 399.29,732.27 399.46,731.98 399.64,731.69 399.81,731.41 399.99,731.13 400.16,730.86 400.33,730.58 400.51,730.3 400.68,730.02 400.86,729.74 401.03,729.46 401.21,729.18 401.38,728.89 401.56,728.61 401.73,728.33 401.9,728.05 402.08,727.77 402.25,727.5 402.43,727.22 402.6,726.95 402.78,726.68 402.95,726.42 403.12,726.16 403.3,725.9 403.47,725.65 403.65,725.41 403.82,725.17 404,724.93 404.17,724.7 404.34,724.48 404.52,724.25 404.69,724.03 404.87,723.81 405.04,723.59 405.22,723.38 405.39,723.16 405.56,722.95 405.74,722.74 405.91,722.53 406.09,722.33 406.26,722.13 406.44,721.92 406.61,721.72 406.79,721.53 406.96,721.33 407.13,721.13 407.31,720.94 407.48,720.75 407.66,720.56 407.83,720.37 408.01,720.18 408.18,720 408.35,719.81 408.53,719.63 408.7,719.45 408.88,719.26 409.05,719.08 409.23,718.91 409.4,718.73 409.57,718.55 409.75,718.38 409.92,718.2 410.1,718.03 410.27,717.85 410.45,717.68 410.62,717.51 410.79,717.34 410.97,717.17 411.14,717 411.32,716.84 411.49,716.67 411.67,716.51 411.84,716.35 412.02,716.19 412.19,716.03 412.36,715.87 412.54,715.72 412.71,715.56 412.89,715.41 413.06,715.26 413.24,715.12 413.41,714.97 413.58,714.83 413.76,714.69 413.93,714.55 414.11,714.42 414.28,714.28 414.46,714.16 414.63,714.03 414.8,713.91 414.98,713.8 415.15,713.69 415.33,713.57 415.5,713.47 415.68,713.36 415.85,713.25 416.02,713.15 416.2,713.05 416.37,712.95 416.55,712.84 416.72,712.74 416.9,712.64 417.07,712.54 417.24,712.44 417.42,712.33 417.59,712.23 417.77,712.12 417.94,712.01 418.12,711.9 418.29,711.78 418.47,711.67 418.64,711.55 418.81,711.42 418.99,711.29 419.16,711.16 419.34,711.02 419.51,710.88 419.69,710.74 419.86,710.58 420.03,710.43 420.21,710.26 420.38,710.08 420.56,709.89 420.73,709.7 420.91,709.49 421.08,709.28 421.25,709.06 421.43,708.83 421.6,708.6 421.78,708.36 421.95,708.11 422.13,707.87 422.3,707.61 422.47,707.36 422.65,707.11 422.82,706.85 423,706.6 423.17,706.31 423.35,706.06 423.52,705.77 423.7,705.57 423.87,705.25 424.04,705.07 424.22,704.87 424.39,704.74 424.57,704.47 424.74,703.71 424.92,703.98 425.09,703.65 425.26,703.3 425.44,703.01 425.61,703.16 425.79,702.91 425.96,702.46 426.14,701.91 426.31,702.23 426.48,701.73 426.66,701.39 426.83,700.6 427.01,701.09 427.18,700 427.36,700.25 427.53,699.4 427.7,699.41 427.88,699.55 428.05,699.5 428.23,698.24 428.4,698.32 428.58,698.72 428.75,697.79 428.93,696.85 429.1,696.86 429.27,697.48 429.45,697.18 429.62,696.06 429.8,695.97 429.97,695.91 430.15,694.39 430.32,694.81 430.49,695.52 430.67,694.3 430.84,694.5 431.02,694.29 431.19,694.26 431.37,693.17 431.54,692.41 431.71,693.01 431.89,692.18 432.06,691.3 432.24,691.52 432.41,689.75 432.59,689.92 432.76,689.69 432.93,691.58 433.11,690.11 433.28,688.68 433.46,689.56 433.63,690.61 433.81,688.68 433.98,688.45 434.15,687.44 434.33,688.37 434.5,686.27 434.68,685.23 434.85,687.85 435.03,685.56 435.2,687.52 435.38,684.04 435.55,684.73 435.72,687.56 435.9,683.57 436.07,683.36 436.25,683.15 436.42,683.46 436.6,683.96 436.77,684.99 436.94,681.32 437.12,682.96 437.29,681.13 437.47,683.12 437.64,682.24 437.82,682.16 437.99,680.38 438.16,683.43 438.34,680.09 438.51,678.18 438.69,679.45 438.86,680.71 439.04,680.76 439.21,677.31 439.38,678.97 439.56,679.7 439.73,680.33 439.91,678.91 440.08,677.33 440.26,675.89 440.43,676.55 440.61,678.22 440.78,675.59 440.95,676.83 441.13,674.54 441.3,678.45 441.48,676.03 441.65,671.66 441.83,676.77 442,672.15 442.17,672.21 442.35,676.14 442.52,674.1 442.7,673.75 442.87,676.45 443.05,674.54 443.22,673.95 443.39,671 443.57,674.43 443.74,672.92 443.92,670.6 444.09,671.69 444.27,668.5 444.44,672.7 444.61,668.54 444.79,670.02 444.96,674.95 445.14,667.94 445.31,669.95 445.49,672.95 445.66,672.52 445.84,667.96 446.01,673.45 446.18,669.69 446.36,669.66 446.53,669.57 446.71,668.35 446.88,668.25 447.06,669.16 447.23,669.34 447.4,665.92 447.58,670.67 447.75,665.29 447.93,668.41 448.1,670.95 448.28,667.23 448.45,667.63 448.62,669.05 448.8,663.22 448.97,669.2 449.15,665.67 449.32,662.84 449.5,671.87 449.67,666.7 449.84,667.61 450.02,665.42 450.19,668.4 450.37,659.91 450.54,658.99 450.72,667.36 450.89,662.71 451.06,660.77 451.24,666.58 451.41,659.53 451.59,663.59 451.76,657.96 451.94,656.8 452.11,666.39 452.29,663.23 452.46,661.3 452.63,669.51 452.81,663.01 452.98,657.59 453.16,666.13 453.33,660.86 453.51,658.31 453.68,664.53 453.85,661.4 454.03,656.3 454.2,660.7 454.38,663.66 454.55,662.87 454.73,657.63 454.9,661.87 455.07,657.68 455.25,666.2 455.42,659.83 455.6,656.03 455.77,659.59 455.95,655.75 456.12,661.25 456.29,655.44 456.47,656.83 456.64,660.5 456.82,662.2 456.99,651.39 457.17,659.38 457.34,657.09 457.52,653.1 457.69,661.68 457.86,659.18 458.04,657.21 458.21,655.19 458.39,660.72 458.56,653.15 458.74,660.55 458.91,656.96 459.08,656.23 459.26,654.87 459.43,654.96 459.61,653.59 459.78,655.49 459.96,654.83 460.13,650.15 460.3,654.29 460.48,660.05 460.65,649.61 460.83,653.63 461,660.73 461.18,652.47 461.35,656.82 461.52,654.69 461.7,648.84 461.87,658.15 462.05,652.34 462.22,648.81 462.4,649.66 462.57,650.97 462.75,651.05 462.92,649.89 463.09,650.34 463.27,653.87 463.44,649.87 463.62,649.19 463.79,653.73 463.97,650.24 464.14,656.67 464.31,646.73 464.49,648.29 464.66,654.62 464.84,655.64 465.01,652.23 465.19,654.52 465.36,652.34 465.53,653.51 465.71,652.13 465.88,648.76 466.06,649.85 466.23,650.79 466.41,650.93 466.58,653.66 466.75,655.25 466.93,652.83 467.1,642.59 467.28,642.8 467.45,644.67 467.63,648.9 467.8,645.33 467.97,648.51 468.15,643.29 468.32,644.82 468.5,642.16 468.67,643.77 468.85,648.21 469.02,641.86 469.2,641.44 469.37,650.62 469.54,643.06 469.72,650.71 469.89,637.04 470.07,646.51 470.24,649.97 470.42,646.5 470.59,652.13 470.76,642.95 470.94,642.58 471.11,644.94 471.29,640.81 471.46,650.52 471.64,650.11 471.81,644.04 471.98,648.27 472.16,643.25 472.33,649.86 472.51,644.69 472.68,643.46 472.86,641.36 473.03,646.29 473.2,639.17 473.38,640.69 473.55,641.55 473.73,646.36 473.9,639.16 474.08,647.53 474.25,640.88 474.43,644.87 474.6,646.25 474.77,640.76 474.95,643.59 475.12,637.41 475.3,644.54 475.47,634.24 475.65,638.47 475.82,636.7 475.99,635.65 476.17,644.67 476.34,639.79 476.52,646.56 476.69,639.63 476.87,641.34 477.04,645.08 477.21,634.46 477.39,643.51 477.56,640.37 477.74,635.34 477.91,643.11 478.09,638.9 478.26,638.33 478.43,642.32 478.61,640.21 478.78,642.72 478.96,638.8 479.13,646.15 479.31,637.6 479.48,633.9 479.66,644.88 479.83,636.17 480,640.58 480.18,639.29 480.35,638.97 480.53,640.25 480.7,643.64 480.88,632.03 481.05,643.07 481.22,635.79 481.4,641.06 481.57,637.41 481.75,643.19 481.92,647.42 482.1,635.93 482.27,634.09 482.44,642.03 482.62,639.05 482.79,638 482.97,637.18 483.14,640.03 483.32,630.83 483.49,640.59 483.66,634.58 483.84,641.6 484.01,642.58 484.19,636.29 484.36,639.79 484.54,636.92 484.71,641.02 484.88,631.84 485.06,635.25 485.23,633.64 485.41,643.38 485.58,636.8 485.76,637.92 485.93,637.69 486.11,637.14 486.28,642.55 486.45,640.48 486.63,636.96 486.8,638.39 486.98,640.28 487.15,638.54 487.33,631.95 487.5,636.9 487.67,639.73 487.85,633.96 488.02,633.09 488.2,632.97 488.37,634.14 488.55,633.97 488.72,634.03 488.89,626.19 489.07,628.21 489.24,636.35 489.42,637.51 489.59,630.4 489.77,630.12 489.94,634.44 490.11,641.68 490.29,634.76 490.46,639.93 490.64,629.28 490.81,632.29 490.99,630.68 491.16,632.08 491.34,632.8 491.51,633.78 491.68,628.79 491.86,627.05 492.03,626.89 492.21,640.35 492.38,638.02 492.56,640.06 492.73,625.95 492.9,632.03 493.08,635.38 493.25,633.31 493.43,632.18 493.6,630.22 493.78,636.75 493.95,637.68 494.12,627.39 494.3,626.06 494.47,635.09 494.65,633.31 494.82,624.21 495,631.97 495.17,629.23 495.34,634.88 495.52,639.36 495.69,641.63 495.87,631.08 496.04,636.13 496.22,637.36 496.39,628.46 496.57,622.22 496.74,630.9 496.91,631.77 497.09,630.87 497.26,633.49 497.44,633.23 497.61,634.06 497.79,629.05 497.96,631.17 498.13,622.06 498.31,624.96 498.48,633.8 498.66,632.22 498.83,634.57 499.01,633.56 499.18,632.86 499.35,633.76 499.53,628.81 499.7,630.65 499.88,626.47 500.05,631.25 500.23,635.58 500.4,628.18 500.57,635.52 500.75,632.34 500.92,626.73 501.1,634.3 501.27,633.05 501.45,625.69 501.62,629.29 501.79,625.9 501.97,629.8 502.14,622.31 502.32,633.98 502.49,625.48 502.67,628.07 502.84,626.42 503.02,633.3 503.19,623.7 503.36,632.74 503.54,633.79 503.71,631.77 503.89,624.87 504.06,627.57 504.1,629.37" fill="none" stroke="#000" stroke-width="1.5" stroke-linejoin="round"/>
<line x1="380.81" y1="773.88" x2="380.81" y2="756.64" stroke="#000" stroke-width="1.2"/>
<line x1="380.81" y1="762.6" x2="380.81" y2="751.11" stroke="#000" stroke-width="1.2"/>
<path d="M131.8 440L131.8 458.1" stroke="#000" stroke-width="1.6" fill="none"/>
<path d="M127.5 449.1L131.8 459.6L136.1 449.1" stroke="#000" stroke-width="1.6" fill="none" stroke-linejoin="miter" stroke-miterlimit="10"/>
<path d="M129.87 453.3L131.8 459.6L133.74 453.3Z" fill="#000"/>
<path d="M379.3 444.6L379.3 461.9" stroke="#000" stroke-width="1.4" fill="none"/>
<path d="M375.3 453.4L379.3 463.4L383.3 453.4" stroke="#000" stroke-width="1.4" fill="none" stroke-linejoin="miter" stroke-miterlimit="10"/>
<path d="M377.5 457.4L379.3 463.4L381.1 457.4Z" fill="#000"/>
<path d="M137.2 740.1L137.2 760" stroke="#000" stroke-width="1.4" fill="none"/>
<path d="M133 751L137.2 761.5L141.4 751" stroke="#000" stroke-width="1.4" fill="none" stroke-linejoin="miter" stroke-miterlimit="10"/>
<path d="M135.31 755.2L137.2 761.5L139.09 755.2Z" fill="#000"/>
<path d="M375.6 737.3L375.6 755.1" stroke="#000" stroke-width="1.4" fill="none"/>
<path d="M371.6 746.6L375.6 756.6L379.6 746.6" stroke="#000" stroke-width="1.4" fill="none" stroke-linejoin="miter" stroke-miterlimit="10"/>
<path d="M373.8 750.6L375.6 756.6L377.4 750.6Z" fill="#000"/>
<path d="M184.8 340.6L189.74 360.34" stroke="#000" stroke-width="1.2" fill="none"/>
<path d="M185.71 356.2L190.1 361.8L191.34 354.79" stroke="#000" stroke-width="1.2" fill="none" stroke-linejoin="miter" stroke-miterlimit="10"/>
<path d="M187.89 358.33L190.1 361.8L190.42 357.7Z" fill="#000"/>
<path d="M213.8 393L208.19 376.72" stroke="#000" stroke-width="1.2" fill="none"/>
<path d="M212.56 380.5L207.7 375.3L207.08 382.39" stroke="#000" stroke-width="1.2" fill="none" stroke-linejoin="miter" stroke-miterlimit="10"/>
<path d="M210.2 378.56L207.7 375.3L207.74 379.41Z" fill="#000"/>
<path d="M443.7 299.3L447.61 319.53" stroke="#000" stroke-width="1.2" fill="none"/>
<path d="M443.82 315.17L447.9 321L449.51 314.07" stroke="#000" stroke-width="1.2" fill="none" stroke-linejoin="miter" stroke-miterlimit="10"/>
<path d="M445.88 317.42L447.9 321L448.44 316.92Z" fill="#000"/>
<path d="M455.7 369.4L455.7 348.5" stroke="#000" stroke-width="1.2" fill="none"/>
<path d="M458.6 353.5L455.7 347L452.8 353.5" stroke="#000" stroke-width="1.2" fill="none" stroke-linejoin="miter" stroke-miterlimit="10"/>
<path d="M457 350.9L455.7 347L454.39 350.9Z" fill="#000"/>
<path d="M174.9 648.8L178.25 668.22" stroke="#000" stroke-width="1.2" fill="none"/>
<path d="M174.54 663.79L178.5 669.7L180.25 662.8" stroke="#000" stroke-width="1.2" fill="none" stroke-linejoin="miter" stroke-miterlimit="10"/>
<path d="M176.55 666.08L178.5 669.7L179.12 665.64Z" fill="#000"/>
<path d="M193.3 707.8L177.28 692.24" stroke="#000" stroke-width="1.2" fill="none"/>
<path d="M182.88 693.65L176.2 691.2L178.84 697.81" stroke="#000" stroke-width="1.2" fill="none" stroke-linejoin="miter" stroke-miterlimit="10"/>
<path d="M179.91 692.98L176.2 691.2L178.09 694.85Z" fill="#000"/>
<path d="M443.2 637.5L447.8 659.63" stroke="#000" stroke-width="1.2" fill="none"/>
<path d="M443.94 655.33L448.1 661.1L449.62 654.15" stroke="#000" stroke-width="1.2" fill="none" stroke-linejoin="miter" stroke-miterlimit="10"/>
<path d="M446.03 657.55L448.1 661.1L448.58 657.02Z" fill="#000"/>
<path d="M465.4 696.7L453.61 683.71" stroke="#000" stroke-width="1.2" fill="none"/>
<path d="M459.12 685.46L452.6 682.6L454.82 689.36" stroke="#000" stroke-width="1.2" fill="none" stroke-linejoin="miter" stroke-miterlimit="10"/>
<path d="M456.19 684.61L452.6 682.6L454.26 686.36Z" fill="#000"/>
<text transform="translate(170.77,339.3) scale(1.0522,1)" font-size="11.000" fill="#111" stroke="#111" stroke-width="0.31">Gp96</text>
<text transform="translate(197.42,404.7) scale(1.0727,1)" font-size="11.000" fill="#111" stroke="#111" stroke-width="0.31">control</text>
<text transform="translate(424.66,294.6) scale(1.0638,1)" font-size="11.000" fill="#111" stroke="#111" stroke-width="0.31">Gp96</text>
<text transform="translate(442.01,381.8) scale(1.0821,1)" font-size="11.000" fill="#111" stroke="#111" stroke-width="0.31">control</text>
<text transform="translate(157.96,644.1) scale(1.0754,1)" font-size="11.000" fill="#111" stroke="#111" stroke-width="0.31">Gp96</text>
<text transform="translate(178.81,716.2) scale(1.0852,1)" font-size="11.000" fill="#111" stroke="#111" stroke-width="0.31">control</text>
<text transform="translate(428.87,632.7) scale(1.0522,1)" font-size="11.000" fill="#111" stroke="#111" stroke-width="0.31">Gp96</text>
<text transform="translate(453.62,707.9) scale(1.0664,1)" font-size="11.000" fill="#111" stroke="#111" stroke-width="0.31">control</text>
</svg>
</body></html>
